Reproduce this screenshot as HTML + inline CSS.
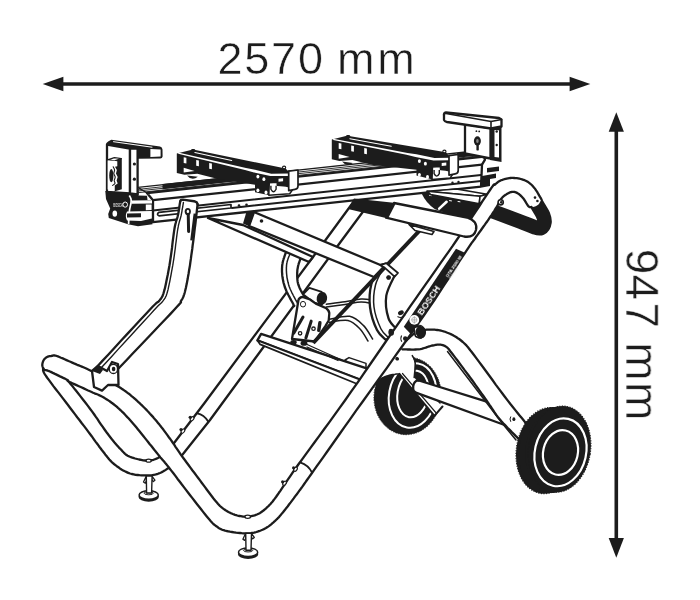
<!DOCTYPE html>
<html><head><meta charset="utf-8"><title>GTA 2500 W dimensions</title>
<style>
html,body{margin:0;padding:0;background:#fff;}
body{width:700px;height:600px;overflow:hidden;font-family:"Liberation Sans",sans-serif;}
svg{display:block}
text{font-family:"Liberation Sans",sans-serif;fill:#1c1c1c}
</style></head><body>
<svg width="700" height="600" viewBox="0 0 700 600">
<rect width="700" height="600" fill="#fff"/>
<path d="M60 84 L572 84" fill="none" stroke="#1c1c1c" stroke-width="3.6" stroke-linecap="butt" stroke-linejoin="round"/>
<path d="M42.7 84 L63.4 76.8 L63.4 91.2 Z" fill="#1c1c1c"/>
<path d="M590.3 84 L569.6 76.8 L569.6 91.2 Z" fill="#1c1c1c"/>
<path d="M616.3 128 L616.3 542" fill="none" stroke="#1c1c1c" stroke-width="3.6" stroke-linecap="butt" stroke-linejoin="round"/>
<path d="M616.3 112.2 L608.7 131.8 L623.9 131.8 Z" fill="#1c1c1c"/>
<path d="M616.3 557.7 L608.7 538.1 L623.9 538.1 Z" fill="#1c1c1c"/>
<text style="will-change:transform" x="217.4 244.3 271 298 325 337 377.3" y="74" font-size="45" stroke="#fff" stroke-width="0.5">2570 mm</text>
<text style="will-change:transform" transform="translate(626.2 0) rotate(90)" x="248.7 274.6 302.6 330 342.3 382.1" y="0" font-size="46" stroke="#fff" stroke-width="0.5">947 mm</text>
<path d="M462.0 200.0 C467.7 202.1 486.3 208.9 496.0 212.5 C505.7 216.1 513.7 219.1 520.0 221.5 C526.3 223.9 530.5 225.9 534.0 227.0 C537.5 228.1 539.2 228.8 541.0 228.0 C542.8 227.2 544.2 224.2 544.5 222.0 C544.8 219.8 543.9 217.3 543.0 215.0 C542.1 212.7 540.7 210.8 539.0 208.0 C537.3 205.2 534.0 199.7 533.0 198.0" fill="none" stroke="#1c1c1c" stroke-width="14.6" stroke-linecap="butt" stroke-linejoin="round"/>
<path d="M421.4 192.9 L430.7 192 L480 198 L486 206 L472 222 L435 209.2 Q426 203 421.4 192.9 Z" fill="#1c1c1c"/>
<path d="M439.2 208.6 L446.6 201.8" fill="none" stroke="#fff" stroke-width="2.6" stroke-linecap="round" stroke-linejoin="round"/>
<path d="M429.5 195.3 L431.5 195.6" fill="none" stroke="#fff" stroke-width="1.0" stroke-linecap="round" stroke-linejoin="round"/>
<path d="M449.5 200.6 L451.5 200.9" fill="none" stroke="#fff" stroke-width="1.0" stroke-linecap="round" stroke-linejoin="round"/>
<path d="M458 201.5 L460 201.8" fill="none" stroke="#fff" stroke-width="1.0" stroke-linecap="round" stroke-linejoin="round"/>
<path d="M355.2 199.5 L325.0 240.8 L204.7 402.7 L173.3 444.0 L182.0 455.3 L210.0 420.0 L338.3 245.0 L364.6 209.5 Z" fill="#fff"/>
<path d="M355.2 199.5 L325.0 240.8 L204.7 402.7 L173.3 444.0" fill="none" stroke="#1c1c1c" stroke-width="2.3" stroke-linecap="round" stroke-linejoin="round"/>
<path d="M364.6 209.5 L338.3 245.0 L210.0 420.0 L182.0 455.3" fill="none" stroke="#1c1c1c" stroke-width="2.3" stroke-linecap="round" stroke-linejoin="round"/>
<path d="M355.2 199.5 L364.6 209.5" fill="none" stroke="#1c1c1c" stroke-width="1.6" stroke-linecap="round" stroke-linejoin="round"/>
<path d="M197.3 413.3 Q204 414.5 208 421.3" fill="none" stroke="#1c1c1c" stroke-width="1.8" stroke-linecap="round" stroke-linejoin="round"/>
<ellipse cx="192.1" cy="418.8" rx="2.3" ry="1.5" transform="rotate(-53 192.1 418.8)" fill="#fff" stroke="#1c1c1c" stroke-width="1.1"/>
<ellipse cx="190.2" cy="417.3" rx="1.6" ry="1.6" transform="rotate(0 190.2 417.3)" fill="#1c1c1c" stroke="none" stroke-width="0"/>
<ellipse cx="182.9" cy="431.1" rx="2.3" ry="1.5" transform="rotate(-53 182.9 431.1)" fill="#fff" stroke="#1c1c1c" stroke-width="1.1"/>
<ellipse cx="181.0" cy="429.6" rx="1.6" ry="1.6" transform="rotate(0 181.0 429.6)" fill="#1c1c1c" stroke="none" stroke-width="0"/>
<path d="M286.5 251.0 L286.3 251.6 L286.0 252.4 L285.6 253.3 L285.2 254.3 L284.8 255.4 L284.4 256.6 L284.0 257.8 L283.6 258.9 L283.3 260.0 L283.0 261.0 L282.8 261.9 L282.6 262.8 L282.5 263.7 L282.3 264.6 L282.2 265.5 L282.1 266.4 L282.1 267.3 L282.0 268.2 L282.0 269.1 L282.0 270.0 L282.0 271.0 L282.0 271.9 L282.1 272.9 L282.2 273.9 L282.2 274.9 L282.3 275.9 L282.5 276.9 L282.6 278.0 L282.8 279.0 L283.0 280.0 L283.2 281.0 L283.4 282.0 L283.6 283.0 L283.9 283.9 L284.2 284.9 L284.5 285.9 L284.8 287.0 L285.2 288.1 L285.7 289.2 L286.2 290.5 L286.8 291.9 L287.6 293.5 L288.5 295.3 L289.5 297.1 L290.4 298.9 L291.4 300.7 L292.3 302.3 L293.1 303.8 L293.7 305.1 L294.2 306.0 L308.0 300.0 L307.7 299.7 L307.3 299.3 L306.9 298.8 L306.3 298.3 L305.8 297.7 L305.2 297.1 L304.6 296.5 L304.1 295.8 L303.5 295.0 L303.0 294.2 L302.5 293.4 L302.0 292.5 L301.5 291.6 L300.9 290.5 L300.4 289.5 L299.9 288.4 L299.4 287.4 L299.0 286.3 L298.6 285.3 L298.3 284.3 L298.0 283.3 L297.8 282.4 L297.6 281.4 L297.5 280.5 L297.4 279.6 L297.3 278.6 L297.3 277.7 L297.2 276.8 L297.2 275.9 L297.2 275.0 L297.2 274.1 L297.2 273.3 L297.2 272.4 L297.3 271.6 L297.3 270.8 L297.4 269.9 L297.5 269.1 L297.7 268.3 L297.8 267.4 L298.0 266.5 L298.2 265.5 L298.5 264.5 L298.8 263.4 L299.2 262.3 L299.6 261.2 L299.9 260.2 L300.3 259.2 L300.6 258.3 L300.8 257.6 L301.0 257.0 Z" fill="#fff"/>
<path d="M286.5 251.0 L286.3 251.6 L286.0 252.4 L285.6 253.3 L285.2 254.3 L284.8 255.4 L284.4 256.6 L284.0 257.8 L283.6 258.9 L283.3 260.0 L283.0 261.0 L282.8 261.9 L282.6 262.8 L282.5 263.7 L282.3 264.6 L282.2 265.5 L282.1 266.4 L282.1 267.3 L282.0 268.2 L282.0 269.1 L282.0 270.0 L282.0 271.0 L282.0 271.9 L282.1 272.9 L282.2 273.9 L282.2 274.9 L282.3 275.9 L282.5 276.9 L282.6 278.0 L282.8 279.0 L283.0 280.0 L283.2 281.0 L283.4 282.0 L283.6 283.0 L283.9 283.9 L284.2 284.9 L284.5 285.9 L284.8 287.0 L285.2 288.1 L285.7 289.2 L286.2 290.5 L286.8 291.9 L287.6 293.5 L288.5 295.3 L289.5 297.1 L290.4 298.9 L291.4 300.7 L292.3 302.3 L293.1 303.8 L293.7 305.1 L294.2 306.0" fill="none" stroke="#1c1c1c" stroke-width="2.3" stroke-linecap="round" stroke-linejoin="round"/>
<path d="M301.0 257.0 L300.8 257.6 L300.6 258.3 L300.3 259.2 L299.9 260.2 L299.6 261.2 L299.2 262.3 L298.8 263.4 L298.5 264.5 L298.2 265.5 L298.0 266.5 L297.8 267.4 L297.7 268.3 L297.5 269.1 L297.4 269.9 L297.3 270.8 L297.3 271.6 L297.2 272.4 L297.2 273.3 L297.2 274.1 L297.2 275.0 L297.2 275.9 L297.2 276.8 L297.3 277.7 L297.3 278.6 L297.4 279.6 L297.5 280.5 L297.6 281.4 L297.8 282.4 L298.0 283.3 L298.3 284.3 L298.6 285.3 L299.0 286.3 L299.4 287.4 L299.9 288.4 L300.4 289.5 L300.9 290.5 L301.5 291.6 L302.0 292.5 L302.5 293.4 L303.0 294.2 L303.5 295.0 L304.1 295.8 L304.6 296.5 L305.2 297.1 L305.8 297.7 L306.3 298.3 L306.9 298.8 L307.3 299.3 L307.7 299.7 L308.0 300.0" fill="none" stroke="#1c1c1c" stroke-width="2.3" stroke-linecap="round" stroke-linejoin="round"/>
<path d="M290.6 252.5 L290.4 253.0 L290.1 253.7 L289.7 254.6 L289.4 255.5 L288.9 256.5 L288.5 257.5 L288.1 258.6 L287.8 259.6 L287.5 260.6 L287.2 261.5 L287.0 262.4 L286.8 263.2 L286.7 264.1 L286.6 264.9 L286.5 265.7 L286.5 266.6 L286.4 267.4 L286.4 268.2 L286.4 269.1 L286.4 270.0 L286.4 270.9 L286.5 271.8 L286.5 272.8 L286.6 273.7 L286.7 274.7 L286.8 275.6 L286.9 276.6 L287.0 277.6 L287.2 278.5 L287.4 279.5 L287.6 280.5 L287.8 281.4 L288.0 282.3 L288.3 283.3 L288.5 284.2 L288.8 285.2 L289.1 286.2 L289.5 287.2 L289.9 288.3 L290.4 289.5 L291.0 290.8 L291.7 292.3 L292.5 293.8 L293.3 295.5 L294.2 297.1 L295.0 298.7 L295.8 300.2 L296.6 301.5 L297.2 302.6 L297.6 303.5" fill="none" stroke="#1c1c1c" stroke-width="1.5" stroke-linecap="round" stroke-linejoin="round"/>
<path d="M345.0 360.0 L349.0 357.6 L366.0 363.4 L366.0 369.6 L357.0 370.0 Z" fill="#fff" stroke="#1c1c1c" stroke-width="1.5" stroke-linejoin="round"/>
<path d="M261.1 333.9 L372.0 370.2 L364.0 381.1 L257.4 340.4 Z" fill="#fff" stroke="#1c1c1c" stroke-width="2.3" stroke-linejoin="round"/>
<path d="M257.4 340.4 L364.0 381.1 L360.4 385.3 L260.2 344.4 Z" fill="#fff" stroke="#1c1c1c" stroke-width="1.7" stroke-linejoin="round"/>
<path d="M306 344 L345 361.5" fill="none" stroke="#1c1c1c" stroke-width="1.3" stroke-linecap="round" stroke-linejoin="round"/>
<path d="M307 347 L338 360.5" fill="none" stroke="#1c1c1c" stroke-width="1.3" stroke-linecap="round" stroke-linejoin="round"/>
<path d="M326.3 304.2 C329.4 303.8 339.2 302.7 345.0 301.8 C350.8 300.9 356.3 299.3 361.0 299.0 C365.7 298.7 371.0 299.8 373.0 300.0" fill="none" stroke="#1c1c1c" stroke-width="1.5" stroke-linecap="round" stroke-linejoin="round"/>
<path d="M326.3 307.0 C329.4 306.6 339.2 305.2 345.0 304.4 C350.8 303.6 356.5 302.1 361.0 302.0 C365.5 301.9 370.2 303.2 372.0 303.5" fill="none" stroke="#1c1c1c" stroke-width="1.5" stroke-linecap="round" stroke-linejoin="round"/>
<path d="M329.3 319.3 C332.7 318.8 344.0 315.3 349.7 316.3 C355.4 317.3 359.6 321.6 363.4 325.4 C367.2 329.2 371.1 336.7 372.6 339.0" fill="none" stroke="#1c1c1c" stroke-width="1.5" stroke-linecap="round" stroke-linejoin="round"/>
<path d="M329.0 322.3 C332.2 322.0 342.8 319.3 348.0 320.4 C353.2 321.5 356.7 325.6 360.0 329.0 C363.3 332.4 366.7 339.0 368.0 341.0" fill="none" stroke="#1c1c1c" stroke-width="1.5" stroke-linecap="round" stroke-linejoin="round"/>
<path d="M303.0 294.3 L309.4 287.8 L321.7 291.9 L322.0 304.5 L314.0 302.5 Z" fill="#fff" stroke="#1c1c1c" stroke-width="1.8" stroke-linejoin="round"/>
<ellipse cx="321.9" cy="298.3" rx="5.2" ry="6.4" transform="rotate(12 321.9 298.3)" fill="#1c1c1c" stroke="none" stroke-width="0"/>
<path d="M298.3 301 Q298.6 297.6 302.5 297 L310 299.5 L315.8 303.6 L326.3 308.3 Q329.6 311 329.3 313.5 L328.7 320.5 L325.2 326.3 L314.7 341.5 L292 339 Z" fill="#fff" stroke="#1c1c1c" stroke-width="2.3" stroke-linejoin="round"/>
<path d="M303 317 L293.7 333.3" fill="none" stroke="#1c1c1c" stroke-width="3.0" stroke-linecap="round" stroke-linejoin="round"/>
<path d="M311.2 321.1 L305.9 338" fill="none" stroke="#1c1c1c" stroke-width="3.0" stroke-linecap="round" stroke-linejoin="round"/>
<path d="M319.9 322.8 L318.75 330.4" fill="none" stroke="#1c1c1c" stroke-width="3.4" stroke-linecap="round" stroke-linejoin="round"/>
<ellipse cx="300.1" cy="333.3" rx="1.7" ry="1.7" transform="rotate(0 300.1 333.3)" fill="#fff" stroke="#1c1c1c" stroke-width="1.3"/>
<ellipse cx="313.5" cy="328.7" rx="1.7" ry="1.7" transform="rotate(0 313.5 328.7)" fill="#fff" stroke="#1c1c1c" stroke-width="1.3"/>
<ellipse cx="303" cy="304.2" rx="2.6" ry="2.8" transform="rotate(0 303 304.2)" fill="#fff" stroke="#1c1c1c" stroke-width="1.0"/>
<ellipse cx="293.5" cy="342.3" rx="3.2" ry="2.4" transform="rotate(0 293.5 342.3)" fill="#1c1c1c" stroke="none" stroke-width="0"/>
<ellipse cx="304" cy="343.2" rx="3.4" ry="2.6" transform="rotate(0 304 343.2)" fill="#1c1c1c" stroke="none" stroke-width="0"/>
<path d="M380.6 264.9 C379.1 268.1 373.2 277.0 371.4 284.0 C369.6 291.0 369.1 299.3 370.0 307.0 C370.9 314.7 374.3 324.5 377.0 330.0 C379.7 335.5 384.5 338.3 386.0 340.0 L397.7 330.0 C396.2 328.1 390.5 324.3 388.6 318.6 C386.7 312.9 385.2 303.1 386.3 295.7 C387.4 288.3 393.9 277.6 395.4 274.0 L386 263.7 Z" fill="#fff" stroke="#1c1c1c" stroke-width="2.3" stroke-linejoin="round"/>
<path d="M384.5 266.0 C383.0 269.2 377.2 278.2 375.5 285.0 C373.8 291.8 373.1 299.7 374.0 307.0 C374.9 314.3 378.5 323.8 381.0 329.0 C383.5 334.2 387.7 336.5 389.0 338.0" fill="none" stroke="#1c1c1c" stroke-width="1.5" stroke-linecap="round" stroke-linejoin="round"/>
<ellipse cx="388.6" cy="277.4" rx="2.2" ry="2.2" transform="rotate(0 388.6 277.4)" fill="#1c1c1c" stroke="none" stroke-width="0"/>
<ellipse cx="390.9" cy="331" rx="2.2" ry="2.2" transform="rotate(0 390.9 331)" fill="#1c1c1c" stroke="none" stroke-width="0"/>
<path d="M208.0 218.0 L243.0 225.0 L313.0 257.0 L309.0 262.0 Z" fill="#fff" stroke="#1c1c1c" stroke-width="2.3" stroke-linejoin="round"/>
<path d="M254.0 212.0 L384.0 266.5 L374.0 277.0 L249.0 226.0 Z" fill="#fff" stroke="#1c1c1c" stroke-width="2.3" stroke-linejoin="round"/>
<path d="M247.0 210.0 L254.5 212.0 L249.5 226.5 L243.0 223.5 Z" fill="#1c1c1c"/>
<ellipse cx="261.5" cy="221" rx="1.8" ry="1.8" transform="rotate(0 261.5 221)" fill="#1c1c1c" stroke="none" stroke-width="0"/>
<path d="M422.6 227.4 L313.2 343" fill="none" stroke="#1c1c1c" stroke-width="3.9" stroke-linecap="butt" stroke-linejoin="round"/>
<path d="M380.4 265.2 L386.4 263.2 L398.0 273.0 L394.6 276.6 L384.6 267.6 Z" fill="#fff" stroke="#1c1c1c" stroke-width="1.8" stroke-linejoin="round"/>
<ellipse cx="388.6" cy="277.6" rx="2.2" ry="2.2" transform="rotate(0 388.6 277.6)" fill="#1c1c1c" stroke="none" stroke-width="0"/>
<path d="M138.0 187.4 L482.0 150.2 L484.0 156.6 L147.0 193.0 Z" fill="#fff" stroke="#1c1c1c" stroke-width="1.4" stroke-linejoin="round"/>
<path d="M138.0 189.4 L480.0 152.4" fill="none" stroke="#1c1c1c" stroke-width="0.9" stroke-linecap="round" stroke-linejoin="round"/>
<path d="M138.0 191.0 L480.0 154.1" fill="none" stroke="#1c1c1c" stroke-width="0.9" stroke-linecap="round" stroke-linejoin="round"/>
<path d="M138.0 192.7 L480.0 155.7" fill="none" stroke="#1c1c1c" stroke-width="0.9" stroke-linecap="round" stroke-linejoin="round"/>
<path d="M162.5 184.0 L262.0 173.3 L262.0 178.6 L162.5 189.3 Z" fill="#1c1c1c"/>
<path d="M457.0 152.9 L482.0 150.2 L483.5 154.9 L457.0 157.7 Z" fill="#1c1c1c"/>
<path d="M147.0 193.0 L484.0 156.6 L485.0 159.6 L482.0 164.7 L481.0 186.7 L153.0 222.1 L153.0 200.2 Z" fill="#fff" stroke="#1c1c1c" stroke-width="2.3" stroke-linejoin="round"/>
<path d="M153.0 200.2 L482.0 164.6" fill="none" stroke="#1c1c1c" stroke-width="2.2" stroke-linecap="round" stroke-linejoin="round"/>
<path d="M153.0 210.4 L481.0 175.0" fill="none" stroke="#1c1c1c" stroke-width="2.0" stroke-linecap="round" stroke-linejoin="round"/>
<path d="M232.0 207.9 L481.0 181.0" fill="none" stroke="#1c1c1c" stroke-width="2.0" stroke-linecap="round" stroke-linejoin="round"/>
<path d="M159 212.3 L231 204.5 L231 208.0 L159 215.8 Q156 214.3 159 212.3 Z" fill="#fff" stroke="#1c1c1c" stroke-width="1.7" stroke-linejoin="round"/>
<ellipse cx="239" cy="205.544" rx="1.3" ry="1.3" transform="rotate(0 239 205.544)" fill="#1c1c1c" stroke="none" stroke-width="0"/>
<ellipse cx="246.5" cy="204.734" rx="1.3" ry="1.3" transform="rotate(0 246.5 204.734)" fill="#1c1c1c" stroke="none" stroke-width="0"/>
<ellipse cx="452.5" cy="182.686" rx="1.2" ry="1.2" transform="rotate(0 452.5 182.686)" fill="#1c1c1c" stroke="none" stroke-width="0"/>
<ellipse cx="458.5" cy="182.03799999999998" rx="1.2" ry="1.2" transform="rotate(0 458.5 182.03799999999998)" fill="#1c1c1c" stroke="none" stroke-width="0"/>
<path d="M176.8 153.4 L190.9 149.9 L191.9 148.9 L194.4 148.9 L195.4 150.1 L285.7 168.4 L288.7 172.0 L288.7 190.0 L269.3 195.3 L255.0 192.3 L255.0 184.7 L218.0 178.9 L197.4 173.7 L184.4 174.7 L176.8 173.1 Z" fill="#1c1c1c"/>
<path d="M178.2 152.5 L246.0 168.0 L255.0 169.8 L271.3 173.7 L288.7 173.5 L288.7 175.9 L270.3 176.1 L254.0 172.4 L245.0 169.9 L178.2 153.8 Z" fill="#fff"/>
<path d="M194.9 152.5 L231.7 160.5" fill="none" stroke="#fff" stroke-width="1.1" stroke-linecap="round" stroke-linejoin="round"/>
<path d="M183.7 157.2 L186.4 157.7 L186.4 163.4 L183.7 162.9 Z" fill="#fff"/>
<path d="M196.2 160.0 L198.9 160.5 L198.9 166.2 L196.2 165.7 Z" fill="#fff"/>
<path d="M209.2 163.0 L211.9 163.5 L211.9 169.2 L209.2 168.7 Z" fill="#fff"/>
<path d="M183.7 167.7 L194.6 170.9 L183.7 172.5 Z" fill="#fff"/>
<path d="M187.0 175.4 Q191.9 181.6 197.9 176.7 Z" fill="#1c1c1c"/>
<ellipse cx="257.9" cy="176.60232" rx="1.5" ry="1.9" transform="rotate(0 257.9 176.60232)" fill="#fff" stroke="none" stroke-width="0"/>
<ellipse cx="263.9" cy="179.20232" rx="1.5" ry="1.9" transform="rotate(0 263.9 179.20232)" fill="#fff" stroke="none" stroke-width="0"/>
<ellipse cx="257.9" cy="190.30232" rx="1.5" ry="1.9" transform="rotate(0 257.9 190.30232)" fill="#fff" stroke="none" stroke-width="0"/>
<ellipse cx="266.0" cy="192.50232" rx="1.5" ry="1.9" transform="rotate(0 266.0 192.50232)" fill="#fff" stroke="none" stroke-width="0"/>
<path d="M278.5 178.7 L283.1 178.3 L283.1 181.3 L278.5 181.7 Z" fill="#fff"/>
<path d="M269.3 182.7 L277.3 182.3 L277.3 185.3 Q292.2 185.8 292.2 190.3 L289.7 193.8 L268.8 195.3 Z" fill="#fff" stroke="#1c1c1c" stroke-width="1.5" stroke-linejoin="round"/>
<path d="M270.9 185.8 L270.9 189.3 Q273.5 194.3 276.1 189.3 L276.1 185.8" fill="none" stroke="#1c1c1c" stroke-width="1.4"/>
<path d="M288.7 171.2 L298.0 170.0 L298.0 186.0 Q298.0 189.0 295.0 189.3 L288.7 190.6 Z" fill="#fff" stroke="#1c1c1c" stroke-width="1.7" stroke-linejoin="round"/>
<ellipse cx="284.1" cy="167.4312" rx="1.6" ry="1.3" transform="rotate(0 284.1 167.4312)" fill="#fff" stroke="#1c1c1c" stroke-width="1.1"/>
<path d="M331.8 139.6 L345.9 136.1 L346.9 135.1 L349.4 135.1 L350.4 136.3 L446.0 152.3 L449.0 156.5 L449.0 174.5 L432.5 179.6 L416.5 175.5 L416.5 169.8 L373.0 165.1 L352.4 159.9 L339.4 160.9 L331.8 159.3 Z" fill="#1c1c1c"/>
<path d="M333.2 138.7 L407.5 152.9 L416.5 154.3 L434.5 158.0 L449.0 157.8 L449.0 160.2 L433.5 160.4 L415.5 156.9 L406.5 154.8 L333.2 140.0 Z" fill="#fff"/>
<path d="M349.9 138.7 L391.3 146.2" fill="none" stroke="#fff" stroke-width="1.1" stroke-linecap="round" stroke-linejoin="round"/>
<path d="M338.7 143.1 L341.4 143.6 L341.4 149.3 L338.7 148.8 Z" fill="#fff"/>
<path d="M351.2 145.5 L353.9 146.0 L353.9 151.7 L351.2 151.2 Z" fill="#fff"/>
<path d="M364.2 148.0 L366.9 148.5 L366.9 154.2 L364.2 153.7 Z" fill="#fff"/>
<path d="M338.7 153.9 L349.6 157.1 L338.7 158.7 Z" fill="#fff"/>
<path d="M342.0 161.6 Q346.9 167.8 352.9 162.9 Z" fill="#1c1c1c"/>
<ellipse cx="419.4" cy="161.09766000000002" rx="1.5" ry="1.9" transform="rotate(0 419.4 161.09766000000002)" fill="#fff" stroke="none" stroke-width="0"/>
<ellipse cx="425.4" cy="163.69766" rx="1.5" ry="1.9" transform="rotate(0 425.4 163.69766)" fill="#fff" stroke="none" stroke-width="0"/>
<ellipse cx="419.4" cy="174.79766" rx="1.5" ry="1.9" transform="rotate(0 419.4 174.79766)" fill="#fff" stroke="none" stroke-width="0"/>
<ellipse cx="427.5" cy="176.99766" rx="1.5" ry="1.9" transform="rotate(0 427.5 176.99766)" fill="#fff" stroke="none" stroke-width="0"/>
<path d="M441.7 163.0 L446.3 162.6 L446.3 165.6 L441.7 166.0 Z" fill="#fff"/>
<path d="M432.5 167.0 L440.5 166.6 L440.5 169.6 Q452.5 170.1 452.5 174.6 L450.0 178.1 L432.0 179.6 Z" fill="#fff" stroke="#1c1c1c" stroke-width="1.5" stroke-linejoin="round"/>
<path d="M434.1 170.1 L434.1 173.6 Q436.7 178.6 439.3 173.6 L439.3 170.1" fill="none" stroke="#1c1c1c" stroke-width="1.4"/>
<path d="M449.0 155.7 L458.2 154.5 L458.2 170.5 Q458.2 173.5 455.2 173.8 L449.0 175.1 Z" fill="#fff" stroke="#1c1c1c" stroke-width="1.7" stroke-linejoin="round"/>
<ellipse cx="444.4" cy="151.46375" rx="1.6" ry="1.3" transform="rotate(0 444.4 151.46375)" fill="#fff" stroke="#1c1c1c" stroke-width="1.1"/>
<path d="M105.3 191 L138.5 191 L138.5 195.5 L147 195.8 L147.5 200 L152.5 200 L152.5 224.3 L138 226.2 L128 224.2 L108.8 218 L108.2 214 L110.2 208.5 L106 199 Z" fill="#1c1c1c"/>
<path d="M129.3 195.5 C129.6 196.1 130.7 197.8 131.0 199.0 C131.3 200.2 131.3 201.0 131.0 203.0 C130.7 205.0 129.8 207.5 129.4 211.0 C129.0 214.5 128.7 221.8 128.6 224.0" fill="none" stroke="#fff" stroke-width="1.7" stroke-linecap="butt" stroke-linejoin="round"/>
<path d="M131.5 200.6 L152.0 200.2 L152.0 203.4 L131.5 203.8 Z" fill="#fff"/>
<path d="M145.8 204.6 L151.6 204.4 L151.6 210.0 L145.8 210.2 Z" fill="#fff"/>
<path d="M127 211.4 L151.8 210.9 L151.8 218.5 L141 221 L127 220.6 Q124.6 216 127 211.4 Z" fill="#fff"/>
<path d="M127.0 213.6 L141.0 213.3 L141.0 217.3 L127.0 217.6 Z" fill="#1c1c1c"/>
<text style="will-change:transform;fill:#ddd" x="113.3" y="206.6" font-size="4.6" font-weight="bold" textLength="9.4" lengthAdjust="spacingAndGlyphs">BOSCH</text>
<ellipse cx="125.2" cy="204.6" rx="2.3" ry="2.6" transform="rotate(0 125.2 204.6)" fill="none" stroke="#fff" stroke-width="1.0"/>
<ellipse cx="114.8" cy="213.6" rx="2.3" ry="3.2" transform="rotate(0 114.8 213.6)" fill="#fff" stroke="none" stroke-width="0"/>
<path d="M107.0 144.5 L130.0 148.5 L130.0 193.5 L107.0 192.0 Z" fill="#fff" stroke="#1c1c1c" stroke-width="2.3" stroke-linejoin="round"/>
<path d="M130.0 148.5 L137.6 148.5 L137.6 194.5 L130.0 193.5 Z" fill="#fff" stroke="#1c1c1c" stroke-width="2.3" stroke-linejoin="round"/>
<ellipse cx="134.4" cy="164" rx="1.6" ry="1.6" transform="rotate(0 134.4 164)" fill="#1c1c1c" stroke="none" stroke-width="0"/>
<ellipse cx="134.4" cy="179.2" rx="1.6" ry="1.6" transform="rotate(0 134.4 179.2)" fill="#1c1c1c" stroke="none" stroke-width="0"/>
<path d="M106.2 144.8 Q106 142.6 108.5 141.3 L111.3 139.7 L160 146.6 Q162.3 147.2 162.5 149.5 L162.6 156.5 Q162.4 158.4 160.3 158.6 L137.6 158.8 L137.6 148.8 L130 148.8 Z" fill="#1c1c1c"/>
<path d="M150.4 148.9 L160.6 149.6 L160.6 156.6 L150.4 156.9 Z" fill="#fff"/>
<path d="M113.5 141.7 L152 147.2" fill="none" stroke="#fff" stroke-width="1.0" stroke-linecap="round" stroke-linejoin="round"/>
<path d="M114.2 159.5 L121.8 158.2 L121.8 189.2 L114.2 191.4 Z" fill="#1c1c1c"/>
<path d="M107.6 159.9 L114.4 157.6 L121.4 158.5 L114.6 160.9 Z" fill="#fff" stroke="#1c1c1c" stroke-width="1.2" stroke-linejoin="round"/>
<path d="M107.6 160.6 L114.4 160.8 L117.3 161.2 L117.3 166.2 L115.0 166.8 L116.9 170.0 L116.0 173.5 L117.7 177.0 L116.6 180.5 L117.7 183.6 L114.7 185.6 L114.7 191.0 L107.6 189.6 Z" fill="#fff"/>
<path d="M113.2 166.8 C113.4 167.3 114.5 168.9 114.6 170.0 C114.7 171.1 113.7 172.3 113.8 173.5 C113.9 174.7 115.1 175.8 115.2 177.0 C115.3 178.2 114.2 179.4 114.2 180.5 C114.2 181.6 115.3 182.6 115.0 183.4 C114.7 184.2 113.0 185.1 112.6 185.4" fill="none" stroke="#1c1c1c" stroke-width="1.1" stroke-linecap="round" stroke-linejoin="round"/>
<ellipse cx="111.3" cy="175.6" rx="2.1" ry="6.6" transform="rotate(0 111.3 175.6)" fill="#1c1c1c" stroke="none" stroke-width="0"/>
<path d="M465.0 124.0 L490.5 128.0 L490.5 158.5 L465.0 153.5 Z" fill="#fff" stroke="#1c1c1c" stroke-width="2.3" stroke-linejoin="round"/>
<path d="M490.0 126.0 L501.5 127.0 L501.5 162.0 L490.0 160.0 Z" fill="#1c1c1c"/>
<path d="M494.5 130.0 L499.0 130.3 L499.0 157.5 L494.5 157.0 Z" fill="#fff"/>
<ellipse cx="496.7" cy="131.5" rx="1.2" ry="1.2" transform="rotate(0 496.7 131.5)" fill="#1c1c1c" stroke="none" stroke-width="0"/>
<ellipse cx="496.7" cy="145" rx="1.2" ry="1.2" transform="rotate(0 496.7 145)" fill="#1c1c1c" stroke="none" stroke-width="0"/>
<path d="M446 112.5 Q443.5 113 444 116 L444 120 Q444.5 121.5 447 122 L491 128.5 L501.5 126.5 L501.5 119.5 L499 118 Z" fill="#fff" stroke="#1c1c1c" stroke-width="2.3" stroke-linejoin="round"/>
<path d="M491 128.5 L491 121.5 L446 113.5" fill="none" stroke="#1c1c1c" stroke-width="1.6" stroke-linecap="round" stroke-linejoin="round"/>
<path d="M491 121.5 L501.5 119.5" fill="none" stroke="#1c1c1c" stroke-width="1.6" stroke-linecap="round" stroke-linejoin="round"/>
<ellipse cx="477.4" cy="141" rx="3.5" ry="4.7" transform="rotate(0 477.4 141)" fill="#1c1c1c" stroke="none" stroke-width="0"/>
<path d="M477.6 143 L477.6 149.4" fill="none" stroke="#1c1c1c" stroke-width="2.4" stroke-linecap="round" stroke-linejoin="round"/>
<ellipse cx="477.4" cy="141" rx="1.3" ry="2.0" transform="rotate(0 477.4 141)" fill="#888" stroke="none" stroke-width="0"/>
<ellipse cx="476.4" cy="131.2" rx="0.9" ry="0.9" transform="rotate(0 476.4 131.2)" fill="#1c1c1c" stroke="none" stroke-width="0"/>
<ellipse cx="479.2" cy="131.4" rx="0.9" ry="0.9" transform="rotate(0 479.2 131.4)" fill="#1c1c1c" stroke="none" stroke-width="0"/>
<path d="M487.0 168.0 L499.0 166.5 L499.0 171.0 L487.0 172.5 Z" fill="#1c1c1c"/>
<path d="M482.0 176.0 L496.0 173.5 L496.0 178.0 L490.0 179.0 L490.0 186.0 L482.0 187.5 Z" fill="#1c1c1c"/>
<path d="M427.0 191.2 L456.4 189.0 L487.1 194.3 L480.0 196.3 Z" fill="#fff" stroke="#1c1c1c" stroke-width="1.6" stroke-linejoin="round"/>
<path d="M427.0 191.2 L480.0 196.3 L479.3 203.8 L430.7 194.6 Z" fill="#fff" stroke="#1c1c1c" stroke-width="1.6" stroke-linejoin="round"/>
<path d="M480.0 196.3 L487.1 194.3 L486.6 198.5 L479.3 203.8 Z" fill="#fff" stroke="#1c1c1c" stroke-width="1.6" stroke-linejoin="round"/>
<path d="M180.2 201.3 L180.1 202.1 L179.9 203.2 L179.7 204.4 L179.5 205.8 L179.3 207.3 L179.1 208.9 L178.8 210.5 L178.6 212.1 L178.3 213.6 L178.0 215.0 L177.7 216.3 L177.4 217.4 L177.1 218.4 L176.7 219.5 L176.4 220.5 L176.0 221.7 L175.7 223.0 L175.3 224.5 L174.9 226.3 L174.5 228.5 L174.1 231.1 L173.7 234.0 L173.3 237.2 L172.8 240.7 L172.4 244.2 L172.0 247.9 L171.5 251.6 L171.0 255.2 L170.5 258.7 L170.0 262.0 L169.5 265.2 L168.9 268.5 L168.3 271.8 L167.7 275.0 L167.0 278.2 L166.4 281.3 L165.8 284.2 L165.2 286.9 L164.6 289.4 L164.0 291.5 L163.5 293.3 L163.0 294.7 L162.6 295.9 L162.1 296.8 L161.7 297.6 L161.2 298.2 L160.8 298.9 L160.2 299.5 L159.7 300.2 L159.0 301.0 L158.5 301.7 L158.2 301.9 L158.1 302.0 L157.9 302.0 L157.7 302.1 L157.2 302.4 L156.3 303.2 L154.9 304.5 L152.8 306.5 L150.0 309.5 L146.1 313.7 L140.9 319.2 L134.9 325.7 L128.3 332.9 L121.4 340.3 L114.6 347.7 L108.2 354.7 L102.4 360.9 L97.5 366.2 L94.0 370.0 L118.5 368.5 L122.1 364.8 L126.9 359.7 L132.7 353.5 L139.2 346.7 L146.1 339.5 L153.0 332.3 L159.6 325.3 L165.6 319.0 L170.7 313.6 L174.5 309.5 L177.2 306.6 L179.0 304.6 L180.2 303.3 L180.8 302.5 L181.0 302.2 L181.0 302.0 L180.8 302.0 L180.7 302.0 L180.7 301.7 L181.0 301.0 L181.5 300.2 L182.0 299.4 L182.4 298.7 L182.8 297.9 L183.1 297.2 L183.5 296.4 L183.8 295.4 L184.2 294.3 L184.6 293.0 L185.0 291.5 L185.4 289.8 L185.9 287.8 L186.3 285.8 L186.8 283.6 L187.2 281.2 L187.7 278.8 L188.1 276.2 L188.6 273.5 L189.0 270.8 L189.5 268.0 L190.0 265.1 L190.4 262.0 L190.9 258.7 L191.3 255.4 L191.8 252.0 L192.3 248.5 L192.7 245.0 L193.2 241.6 L193.6 238.3 L194.0 235.0 L194.4 231.7 L194.8 228.2 L195.3 224.6 L195.7 221.0 L196.1 217.5 L196.5 214.2 L196.8 211.1 L197.1 208.4 L197.4 206.0 L197.6 204.2 L197.6 204.2 L196.8 202.4 L194.0 201.2 L183.0 199.6 L181.0 200.0 L180.2 201.3 Z" fill="#fff"/>
<path d="M180.2 201.3 L180.1 202.1 L179.9 203.2 L179.7 204.4 L179.5 205.8 L179.3 207.3 L179.1 208.9 L178.8 210.5 L178.6 212.1 L178.3 213.6 L178.0 215.0 L177.7 216.3 L177.4 217.4 L177.1 218.4 L176.7 219.5 L176.4 220.5 L176.0 221.7 L175.7 223.0 L175.3 224.5 L174.9 226.3 L174.5 228.5 L174.1 231.1 L173.7 234.0 L173.3 237.2 L172.8 240.7 L172.4 244.2 L172.0 247.9 L171.5 251.6 L171.0 255.2 L170.5 258.7 L170.0 262.0 L169.5 265.2 L168.9 268.5 L168.3 271.8 L167.7 275.0 L167.0 278.2 L166.4 281.3 L165.8 284.2 L165.2 286.9 L164.6 289.4 L164.0 291.5 L163.5 293.3 L163.0 294.7 L162.6 295.9 L162.1 296.8 L161.7 297.6 L161.2 298.2 L160.8 298.9 L160.2 299.5 L159.7 300.2 L159.0 301.0 L158.5 301.7 L158.2 301.9 L158.1 302.0 L157.9 302.0 L157.7 302.1 L157.2 302.4 L156.3 303.2 L154.9 304.5 L152.8 306.5 L150.0 309.5 L146.1 313.7 L140.9 319.2 L134.9 325.7 L128.3 332.9 L121.4 340.3 L114.6 347.7 L108.2 354.7 L102.4 360.9 L97.5 366.2 L94.0 370.0" fill="none" stroke="#1c1c1c" stroke-width="2.3" stroke-linecap="round" stroke-linejoin="round"/>
<path d="M197.6 204.2 L197.4 206.0 L197.1 208.4 L196.8 211.1 L196.5 214.2 L196.1 217.5 L195.7 221.0 L195.3 224.6 L194.8 228.2 L194.4 231.7 L194.0 235.0 L193.6 238.3 L193.2 241.6 L192.7 245.0 L192.3 248.5 L191.8 252.0 L191.3 255.4 L190.9 258.7 L190.4 262.0 L190.0 265.1 L189.5 268.0 L189.0 270.8 L188.6 273.5 L188.1 276.2 L187.7 278.8 L187.2 281.2 L186.8 283.6 L186.3 285.8 L185.9 287.8 L185.4 289.8 L185.0 291.5 L184.6 293.0 L184.2 294.3 L183.8 295.4 L183.5 296.4 L183.1 297.2 L182.8 297.9 L182.4 298.7 L182.0 299.4 L181.5 300.2 L181.0 301.0 L180.7 301.7 L180.7 302.0 L180.8 302.0 L181.0 302.0 L181.0 302.2 L180.8 302.5 L180.2 303.3 L179.0 304.6 L177.2 306.6 L174.5 309.5 L170.7 313.6 L165.6 319.0 L159.6 325.3 L153.0 332.3 L146.1 339.5 L139.2 346.7 L132.7 353.5 L126.9 359.7 L122.1 364.8 L118.5 368.5" fill="none" stroke="#1c1c1c" stroke-width="2.3" stroke-linecap="round" stroke-linejoin="round"/>
<path d="M197.6 204.2 L196.8 202.4 L194.0 201.2 L183.0 199.6 L181.0 200.0 L180.2 201.3" fill="none" stroke="#1c1c1c" stroke-width="2.4" stroke-linecap="round" stroke-linejoin="round"/>
<path d="M183.4 202.5 L183.3 203.3 L183.1 204.3 L182.9 205.6 L182.7 207.0 L182.4 208.4 L182.1 210.0 L181.9 211.6 L181.6 213.1 L181.3 214.6 L181.0 216.0 L180.7 217.2 L180.4 218.3 L180.1 219.3 L179.8 220.3 L179.5 221.3 L179.2 222.4 L178.9 223.6 L178.5 225.1 L178.2 226.9 L177.8 229.0 L177.4 231.5 L177.0 234.4 L176.6 237.5 L176.2 240.9 L175.7 244.5 L175.3 248.1 L174.8 251.7 L174.3 255.3 L173.8 258.8 L173.3 262.0 L172.8 265.2 L172.2 268.4 L171.6 271.7 L171.0 275.0 L170.4 278.2 L169.8 281.3 L169.2 284.2 L168.6 286.9 L168.1 289.4 L167.5 291.5 L167.0 293.3 L166.5 294.8 L166.1 296.0 L165.6 296.9 L165.2 297.8 L164.7 298.5 L164.3 299.2 L163.7 299.9 L163.2 300.6 L162.5 301.5 L162.0 302.2 L161.7 302.6 L161.6 302.7 L161.4 302.8 L161.2 303.0 L160.7 303.4 L159.8 304.2 L158.4 305.6 L156.3 307.8 L153.5 310.8 L149.6 315.1 L144.4 320.7 L138.4 327.3 L131.8 334.5 L124.9 342.0 L118.1 349.4 L111.7 356.5 L105.9 362.8 L101.0 368.1 L97.5 372.0" fill="none" stroke="#1c1c1c" stroke-width="1.4" stroke-linecap="round" stroke-linejoin="round"/>
<path d="M188.2 212 L188.6 231.5" fill="none" stroke="#1c1c1c" stroke-width="3.0" stroke-linecap="round" stroke-linejoin="round"/>
<ellipse cx="187.8" cy="211.6" rx="3.1" ry="3.7" transform="rotate(0 187.8 211.6)" fill="#1c1c1c" stroke="none" stroke-width="0"/>
<ellipse cx="187.9" cy="211.4" rx="1.2" ry="1.6" transform="rotate(0 187.9 211.4)" fill="#fff" stroke="none" stroke-width="0"/>
<path d="M193.6 213.5 L196.4 213.8 L192.6 240.5 L190.2 240.2 Z" fill="#1c1c1c"/>
<path d="M43.0 368.5 L43.1 368.8 L43.1 369.2 L43.1 369.5 L43.1 369.9 L43.1 370.4 L43.3 371.1 L43.6 371.9 L44.1 373.0 L44.9 374.3 L46.0 376.0 L47.4 378.0 L49.2 380.4 L51.2 383.1 L53.4 386.1 L55.8 389.2 L58.3 392.4 L60.8 395.6 L63.3 398.9 L65.7 402.0 L68.0 405.0 L70.2 408.0 L72.5 411.0 L74.9 414.1 L77.2 417.2 L79.6 420.2 L81.8 423.2 L84.1 426.1 L86.2 428.9 L88.2 431.6 L90.0 434.0 L91.7 436.2 L93.2 438.3 L94.6 440.3 L95.9 442.1 L97.2 443.8 L98.4 445.4 L99.5 447.0 L100.7 448.5 L101.8 450.0 L103.0 451.5 L104.2 453.0 L105.2 454.4 L106.3 455.7 L107.3 457.0 L108.3 458.2 L109.3 459.5 L110.4 460.6 L111.5 461.8 L112.7 462.9 L114.0 464.0 L115.4 465.1 L116.8 466.2 L118.4 467.3 L119.9 468.4 L121.5 469.4 L123.2 470.4 L124.9 471.3 L126.6 472.1 L128.3 472.9 L130.0 473.5 L131.8 474.0 L133.7 474.4 L135.6 474.8 L137.6 475.0 L139.6 475.2 L141.6 475.3 L143.5 475.4 L145.3 475.4 L147.0 475.4 L148.6 475.4 L150.0 475.4 L151.4 475.3 L152.6 475.1 L153.7 474.9 L154.8 474.7 L155.9 474.4 L156.9 474.1 L157.9 473.8 L158.9 473.4 L160.0 473.0 L161.1 472.5 L162.2 471.9 L163.4 471.3 L164.6 470.6 L165.7 469.9 L166.8 469.1 L167.8 468.5 L168.7 467.9 L169.4 467.4 L170.0 467.0 L162.0 456.0 L161.2 456.3 L160.3 456.8 L159.2 457.3 L157.9 458.0 L156.5 458.6 L155.0 459.2 L153.5 459.8 L151.9 460.2 L150.3 460.6 L148.7 460.7 L147.0 460.7 L145.2 460.5 L143.2 460.3 L141.2 459.9 L139.1 459.5 L137.1 459.0 L135.1 458.5 L133.2 457.9 L131.5 457.4 L130.0 456.8 L128.7 456.2 L127.6 455.7 L126.6 455.1 L125.8 454.5 L125.0 453.8 L124.3 453.1 L123.5 452.3 L122.7 451.4 L121.8 450.4 L120.7 449.3 L119.5 448.1 L118.3 446.8 L117.1 445.4 L115.8 443.9 L114.5 442.4 L113.1 440.7 L111.7 439.0 L110.3 437.2 L108.8 435.3 L107.3 433.3 L105.8 431.2 L104.2 429.0 L102.6 426.7 L100.9 424.3 L99.2 421.8 L97.5 419.2 L95.7 416.7 L93.9 414.0 L92.0 411.4 L90.0 408.7 L87.9 405.9 L85.5 402.8 L82.9 399.5 L80.3 396.1 L77.7 392.8 L75.1 389.6 L72.8 386.6 L70.6 384.0 L68.9 381.7 L67.5 380.0 L48.3 370.8 Z" fill="#fff"/>
<path d="M43.0 368.5 L43.1 368.8 L43.1 369.2 L43.1 369.5 L43.1 369.9 L43.1 370.4 L43.3 371.1 L43.6 371.9 L44.1 373.0 L44.9 374.3 L46.0 376.0 L47.4 378.0 L49.2 380.4 L51.2 383.1 L53.4 386.1 L55.8 389.2 L58.3 392.4 L60.8 395.6 L63.3 398.9 L65.7 402.0 L68.0 405.0 L70.2 408.0 L72.5 411.0 L74.9 414.1 L77.2 417.2 L79.6 420.2 L81.8 423.2 L84.1 426.1 L86.2 428.9 L88.2 431.6 L90.0 434.0 L91.7 436.2 L93.2 438.3 L94.6 440.3 L95.9 442.1 L97.2 443.8 L98.4 445.4 L99.5 447.0 L100.7 448.5 L101.8 450.0 L103.0 451.5 L104.2 453.0 L105.2 454.4 L106.3 455.7 L107.3 457.0 L108.3 458.2 L109.3 459.5 L110.4 460.6 L111.5 461.8 L112.7 462.9 L114.0 464.0 L115.4 465.1 L116.8 466.2 L118.4 467.3 L119.9 468.4 L121.5 469.4 L123.2 470.4 L124.9 471.3 L126.6 472.1 L128.3 472.9 L130.0 473.5 L131.8 474.0 L133.7 474.4 L135.6 474.8 L137.6 475.0 L139.6 475.2 L141.6 475.3 L143.5 475.4 L145.3 475.4 L147.0 475.4 L148.6 475.4 L150.0 475.4 L151.4 475.3 L152.6 475.1 L153.7 474.9 L154.8 474.7 L155.9 474.4 L156.9 474.1 L157.9 473.8 L158.9 473.4 L160.0 473.0 L161.1 472.5 L162.2 471.9 L163.4 471.3 L164.6 470.6 L165.7 469.9 L166.8 469.1 L167.8 468.5 L168.7 467.9 L169.4 467.4 L170.0 467.0" fill="none" stroke="#1c1c1c" stroke-width="2.3" stroke-linecap="round" stroke-linejoin="round"/>
<path d="M67.5 380.0 L68.9 381.7 L70.6 384.0 L72.8 386.6 L75.1 389.6 L77.7 392.8 L80.3 396.1 L82.9 399.5 L85.5 402.8 L87.9 405.9 L90.0 408.7 L92.0 411.4 L93.9 414.0 L95.7 416.7 L97.5 419.2 L99.2 421.8 L100.9 424.3 L102.6 426.7 L104.2 429.0 L105.8 431.2 L107.3 433.3 L108.8 435.3 L110.3 437.2 L111.7 439.0 L113.1 440.7 L114.5 442.4 L115.8 443.9 L117.1 445.4 L118.3 446.8 L119.5 448.1 L120.7 449.3 L121.8 450.4 L122.7 451.4 L123.5 452.3 L124.3 453.1 L125.0 453.8 L125.8 454.5 L126.6 455.1 L127.6 455.7 L128.7 456.2 L130.0 456.8 L131.5 457.4 L133.2 457.9 L135.1 458.5 L137.1 459.0 L139.1 459.5 L141.2 459.9 L143.2 460.3 L145.2 460.5 L147.0 460.7 L148.7 460.7 L150.3 460.6 L151.9 460.2 L153.5 459.8 L155.0 459.2 L156.5 458.6 L157.9 458.0 L159.2 457.3 L160.3 456.8 L161.2 456.3 L162.0 456.0" fill="none" stroke="#1c1c1c" stroke-width="2.3" stroke-linecap="round" stroke-linejoin="round"/>
<ellipse cx="148.6" cy="460.7" rx="2.6" ry="1.5" transform="rotate(0 148.6 460.7)" fill="#fff" stroke="#1c1c1c" stroke-width="1.3"/>
<ellipse cx="407.5" cy="396" rx="33.5" ry="38.8" transform="rotate(8 407.5 396)" fill="#1c1c1c" stroke="none" stroke-width="0"/>
<ellipse cx="407.5" cy="396" rx="33.5" ry="38.8" transform="rotate(8 407.5 396)" fill="none" stroke="#1c1c1c" stroke-width="0.8" stroke-dasharray="1.3 1.3"/>
<ellipse cx="412.5" cy="395.5" rx="23.5" ry="32.5" transform="rotate(10 412.5 395.5)" fill="none" stroke="#fff" stroke-width="2.0"/>
<ellipse cx="413" cy="394" rx="15.5" ry="23.5" transform="rotate(10 413 394)" fill="none" stroke="#fff" stroke-width="2.0"/>
<path d="M376.3 383.0 L376.7 382.6 L377.2 382.0 L377.8 381.3 L378.5 380.5 L379.2 379.8 L380.0 379.2 L380.9 378.7 L381.8 378.1 L382.8 377.6 L383.9 377.1 L384.9 376.7 L386.0 376.3 L387.0 375.9 L388.1 375.6 L389.2 375.3 L390.3 375.0 L391.4 374.8 L392.5 374.6 L393.7 374.4 L395.0 374.3 L396.4 374.1 L397.6 374.0 L398.6 374.0 L399.4 373.9 L434.4 415.8 L442.5 406.5 L419.0 383.0 L414.2 377.5 L415.0 364.0 L412.3 355.6 L400.0 347.0 L388.0 360.0 Z" fill="#fff"/>
<path d="M376.3 383.0 L376.7 382.6 L377.2 382.0 L377.8 381.3 L378.5 380.5 L379.2 379.8 L380.0 379.2 L380.9 378.7 L381.8 378.1 L382.8 377.6 L383.9 377.1 L384.9 376.7 L386.0 376.3 L387.0 375.9 L388.1 375.6 L389.2 375.3 L390.3 375.0 L391.4 374.8 L392.5 374.6 L393.7 374.4 L395.0 374.3 L396.4 374.1 L397.6 374.0 L398.6 374.0 L399.4 373.9" fill="none" stroke="#1c1c1c" stroke-width="1.5" stroke-linecap="round" stroke-linejoin="round"/>
<path d="M399.4 373.9 L434.4 415.8 L442.5 406.5" fill="none" stroke="#1c1c1c" stroke-width="2.0" stroke-linecap="round" stroke-linejoin="round"/>
<path d="M402.6 373.6 L436.5 413.4" fill="none" stroke="#1c1c1c" stroke-width="1.4" stroke-linecap="round" stroke-linejoin="round"/>
<path d="M412.3 355.6 L412.6 356.2 L413.1 357.0 L413.7 357.9 L414.2 358.9 L414.6 360.0 L414.9 361.0 L415.0 362.0 L415.2 363.1 L415.2 364.4 L415.2 366.0 L415.1 368.1 L414.9 370.8 L414.6 373.5 L414.4 375.8 L414.2 377.5" fill="none" stroke="#1c1c1c" stroke-width="1.6" stroke-linecap="round" stroke-linejoin="round"/>
<ellipse cx="396.9" cy="358.7" rx="1.6" ry="1.6" transform="rotate(0 396.9 358.7)" fill="#1c1c1c" stroke="none" stroke-width="0"/>
<path d="M418.8 380.5 L486.7 401.6 L503.2 424.5 L415.2 392.4 L415.2 392.4 L414.9 392.0 L414.5 391.5 L414.0 391.0 L413.6 390.3 L413.3 389.5 L413.2 388.6 L413.2 387.6 L413.2 386.5 L413.4 385.4 L413.6 384.5 L413.9 383.7 L414.3 382.9 L414.8 382.3 L415.3 381.7 L415.8 381.2 L416.4 380.9 L417.1 380.7 L417.8 380.6 L418.4 380.6 L418.8 380.5 Z" fill="#fff"/>
<path d="M418.8 380.5 L486.7 401.6" fill="none" stroke="#1c1c1c" stroke-width="2.3" stroke-linecap="round" stroke-linejoin="round"/>
<path d="M415.2 392.4 L503.2 424.5" fill="none" stroke="#1c1c1c" stroke-width="2.3" stroke-linecap="round" stroke-linejoin="round"/>
<path d="M415.2 392.4 L414.9 392.0 L414.5 391.5 L414.0 391.0 L413.6 390.3 L413.3 389.5 L413.2 388.6 L413.2 387.6 L413.2 386.5 L413.4 385.4 L413.6 384.5 L413.9 383.7 L414.3 382.9 L414.8 382.3 L415.3 381.7 L415.8 381.2 L416.4 380.9 L417.1 380.7 L417.8 380.6 L418.4 380.6 L418.8 380.5" fill="none" stroke="#1c1c1c" stroke-width="2.3" stroke-linecap="round" stroke-linejoin="round"/>
<path d="M406.0 341.0 L406.5 340.5 L407.2 339.8 L408.0 339.0 L408.9 338.1 L409.9 337.2 L410.9 336.2 L412.0 335.3 L413.0 334.4 L414.0 333.6 L415.0 333.0 L415.9 332.5 L416.8 332.0 L417.7 331.6 L418.5 331.3 L419.4 331.0 L420.3 330.7 L421.2 330.5 L422.2 330.3 L423.2 330.2 L424.3 330.0 L425.4 329.9 L426.7 329.7 L427.9 329.7 L429.2 329.6 L430.5 329.6 L431.9 329.6 L433.2 329.6 L434.6 329.7 L435.9 329.8 L437.2 330.0 L438.5 330.2 L439.8 330.4 L441.0 330.7 L442.3 331.0 L443.6 331.4 L444.9 331.7 L446.2 332.2 L447.4 332.7 L448.7 333.2 L450.0 333.8 L451.3 334.4 L452.6 335.0 L453.9 335.8 L455.2 336.5 L456.5 337.3 L457.8 338.2 L459.1 339.0 L460.4 340.0 L461.6 341.0 L462.8 342.0 L463.9 343.0 L464.8 343.8 L465.6 344.6 L466.4 345.4 L467.1 346.3 L468.0 347.3 L469.1 348.7 L470.3 350.3 L471.9 352.3 L473.8 354.8 L476.1 357.9 L478.9 361.6 L482.0 365.8 L485.3 370.3 L488.8 375.0 L492.3 379.8 L495.7 384.6 L499.1 389.1 L502.2 393.3 L505.0 397.0 L507.6 400.4 L510.2 403.8 L512.8 407.0 L515.3 410.1 L517.6 413.0 L519.8 415.7 L521.8 418.1 L523.6 420.3 L525.1 422.2 L526.3 423.7 L518.3 438.6 L517.2 437.4 L515.6 435.9 L513.9 434.1 L511.8 432.1 L509.7 429.9 L507.5 427.7 L505.3 425.4 L503.2 423.2 L501.2 421.0 L499.5 419.0 L498.0 417.2 L496.6 415.4 L495.4 413.6 L494.2 411.9 L493.1 410.2 L491.9 408.5 L490.8 406.7 L489.5 404.8 L488.2 402.8 L486.7 400.7 L485.1 398.4 L483.4 396.0 L481.5 393.4 L479.7 390.8 L477.8 388.1 L475.8 385.4 L473.9 382.7 L472.0 380.0 L470.1 377.5 L468.3 375.0 L466.5 372.6 L464.6 370.1 L462.8 367.6 L460.9 365.1 L459.1 362.7 L457.3 360.3 L455.6 358.1 L454.1 356.1 L452.7 354.3 L451.5 352.8 L450.5 351.5 L449.8 350.5 L449.2 349.7 L448.7 349.1 L448.4 348.7 L448.0 348.3 L447.7 348.0 L447.4 347.7 L447.0 347.4 L446.5 347.0 L445.9 346.6 L445.3 346.2 L444.7 345.9 L444.1 345.6 L443.5 345.4 L442.8 345.1 L442.1 345.0 L441.4 344.8 L440.7 344.7 L440.0 344.6 L439.3 344.6 L438.5 344.6 L437.8 344.6 L437.0 344.7 L436.2 344.8 L435.4 344.9 L434.6 345.1 L433.7 345.3 L432.7 345.5 L431.7 345.7 L430.6 346.0 L429.5 346.3 L428.3 346.7 L427.0 347.1 L425.8 347.6 L424.4 348.0 L423.1 348.4 L421.7 348.8 L420.3 349.1 L418.8 349.3 L417.2 349.4 L415.5 349.5 L413.6 349.6 L411.7 349.6 L409.7 349.5 L407.9 349.5 L406.2 349.4 L404.6 349.4 L403.3 349.3 L402.3 349.3 Z" fill="#fff"/>
<path d="M406.0 341.0 L406.5 340.5 L407.2 339.8 L408.0 339.0 L408.9 338.1 L409.9 337.2 L410.9 336.2 L412.0 335.3 L413.0 334.4 L414.0 333.6 L415.0 333.0 L415.9 332.5 L416.8 332.0 L417.7 331.6 L418.5 331.3 L419.4 331.0 L420.3 330.7 L421.2 330.5 L422.2 330.3 L423.2 330.2 L424.3 330.0 L425.4 329.9 L426.7 329.7 L427.9 329.7 L429.2 329.6 L430.5 329.6 L431.9 329.6 L433.2 329.6 L434.6 329.7 L435.9 329.8 L437.2 330.0 L438.5 330.2 L439.8 330.4 L441.0 330.7 L442.3 331.0 L443.6 331.4 L444.9 331.7 L446.2 332.2 L447.4 332.7 L448.7 333.2 L450.0 333.8 L451.3 334.4 L452.6 335.0 L453.9 335.8 L455.2 336.5 L456.5 337.3 L457.8 338.2 L459.1 339.0 L460.4 340.0 L461.6 341.0 L462.8 342.0 L463.9 343.0 L464.8 343.8 L465.6 344.6 L466.4 345.4 L467.1 346.3 L468.0 347.3 L469.1 348.7 L470.3 350.3 L471.9 352.3 L473.8 354.8 L476.1 357.9 L478.9 361.6 L482.0 365.8 L485.3 370.3 L488.8 375.0 L492.3 379.8 L495.7 384.6 L499.1 389.1 L502.2 393.3 L505.0 397.0 L507.6 400.4 L510.2 403.8 L512.8 407.0 L515.3 410.1 L517.6 413.0 L519.8 415.7 L521.8 418.1 L523.6 420.3 L525.1 422.2 L526.3 423.7" fill="none" stroke="#1c1c1c" stroke-width="2.3" stroke-linecap="round" stroke-linejoin="round"/>
<path d="M402.3 349.3 L403.3 349.3 L404.6 349.4 L406.2 349.4 L407.9 349.5 L409.7 349.5 L411.7 349.6 L413.6 349.6 L415.5 349.5 L417.2 349.4 L418.8 349.3 L420.3 349.1 L421.7 348.8 L423.1 348.4 L424.4 348.0 L425.8 347.6 L427.0 347.1 L428.3 346.7 L429.5 346.3 L430.6 346.0 L431.7 345.7 L432.7 345.5 L433.7 345.3 L434.6 345.1 L435.4 344.9 L436.2 344.8 L437.0 344.7 L437.8 344.6 L438.5 344.6 L439.3 344.6 L440.0 344.6 L440.7 344.7 L441.4 344.8 L442.1 345.0 L442.8 345.1 L443.5 345.4 L444.1 345.6 L444.7 345.9 L445.3 346.2 L445.9 346.6 L446.5 347.0 L447.0 347.4 L447.4 347.7 L447.7 348.0 L448.0 348.3 L448.4 348.7 L448.7 349.1 L449.2 349.7 L449.8 350.5 L450.5 351.5 L451.5 352.8 L452.7 354.3 L454.1 356.1 L455.6 358.1 L457.3 360.3 L459.1 362.7 L460.9 365.1 L462.8 367.6 L464.6 370.1 L466.5 372.6 L468.3 375.0 L470.1 377.5 L472.0 380.0 L473.9 382.7 L475.8 385.4 L477.8 388.1 L479.7 390.8 L481.5 393.4 L483.4 396.0 L485.1 398.4 L486.7 400.7 L488.2 402.8 L489.5 404.8 L490.8 406.7 L491.9 408.5 L493.1 410.2 L494.2 411.9 L495.4 413.6 L496.6 415.4 L498.0 417.2 L499.5 419.0 L501.2 421.0 L503.2 423.2 L505.3 425.4 L507.5 427.7 L509.7 429.9 L511.8 432.1 L513.9 434.1 L515.6 435.9 L517.2 437.4 L518.3 438.6" fill="none" stroke="#1c1c1c" stroke-width="2.3" stroke-linecap="round" stroke-linejoin="round"/>
<path d="M447.5 351.5 L503.2 424.5 L516 440" fill="none" stroke="#1c1c1c" stroke-width="1.5" stroke-linecap="round" stroke-linejoin="round"/>
<ellipse cx="513.9" cy="419.2" rx="1.5" ry="1.9" transform="rotate(0 513.9 419.2)" fill="#1c1c1c" stroke="none" stroke-width="0"/>
<path d="M510.8 416.5 Q509.2 419 510.8 421.8" fill="none" stroke="#1c1c1c" stroke-width="1"/>
<path d="M51.7 355.9 L51.9 355.9 L52.2 355.8 L52.4 355.7 L52.7 355.6 L53.1 355.5 L53.6 355.4 L54.1 355.4 L54.8 355.5 L55.7 355.7 L56.7 356.0 L57.9 356.4 L59.4 357.0 L61.0 357.7 L62.8 358.4 L64.6 359.2 L66.5 360.1 L68.5 361.0 L70.4 361.8 L72.2 362.6 L74.0 363.4 L75.7 364.1 L77.2 364.8 L78.8 365.4 L80.3 366.0 L81.8 366.6 L83.4 367.3 L85.1 368.0 L86.8 368.8 L88.7 369.7 L90.8 370.8 L93.1 372.0 L95.7 373.4 L98.5 375.0 L101.4 376.6 L104.3 378.3 L107.2 380.0 L110.1 381.7 L112.7 383.3 L115.2 384.7 L117.3 386.0 L119.1 387.1 L120.7 388.1 L122.1 389.0 L123.3 389.8 L124.5 390.6 L125.5 391.3 L126.6 392.1 L127.6 392.9 L128.8 393.7 L130.0 394.7 L131.3 395.8 L132.6 396.8 L133.9 398.0 L135.3 399.1 L136.6 400.3 L137.9 401.6 L139.3 402.8 L140.6 404.1 L142.0 405.4 L143.3 406.7 L144.6 408.0 L146.0 409.4 L147.3 410.8 L148.7 412.2 L150.0 413.7 L151.3 415.1 L152.7 416.6 L154.0 418.2 L155.4 419.7 L156.7 421.3 L158.0 422.9 L159.4 424.6 L160.7 426.3 L162.1 428.1 L163.5 429.8 L164.8 431.6 L166.1 433.4 L167.4 435.2 L168.7 437.0 L170.0 438.7 L171.2 440.4 L172.3 442.0 L173.4 443.6 L174.5 445.2 L175.5 446.8 L176.6 448.4 L177.8 450.1 L179.0 451.9 L180.3 453.8 L181.7 455.8 L183.3 458.0 L185.0 460.3 L186.8 462.7 L188.7 465.3 L190.6 467.9 L192.5 470.5 L194.5 473.0 L196.4 475.6 L198.2 478.0 L200.0 480.4 L201.7 482.7 L203.5 485.1 L205.2 487.4 L206.9 489.7 L208.6 492.0 L210.3 494.2 L211.8 496.2 L213.3 498.2 L214.7 499.9 L216.0 501.5 L217.1 502.8 L218.1 504.0 L219.0 504.9 L219.8 505.8 L220.6 506.5 L221.3 507.1 L222.0 507.7 L222.8 508.3 L223.6 508.9 L224.5 509.5 L225.5 510.2 L226.5 510.8 L227.5 511.4 L228.5 512.0 L229.5 512.5 L230.6 513.1 L231.7 513.5 L232.8 514.0 L233.9 514.4 L235.0 514.8 L236.1 515.1 L237.3 515.5 L238.4 515.8 L239.6 516.0 L240.8 516.2 L242.0 516.4 L243.2 516.6 L244.4 516.7 L245.5 516.7 L246.7 516.7 L247.9 516.6 L249.0 516.5 L250.2 516.4 L251.3 516.2 L252.5 515.9 L253.6 515.6 L254.7 515.3 L255.8 514.9 L256.9 514.5 L258.0 514.0 L259.1 513.5 L260.1 512.9 L261.1 512.2 L262.1 511.5 L263.1 510.8 L264.1 510.0 L265.1 509.2 L266.1 508.3 L267.0 507.4 L268.0 506.5 L268.9 505.6 L269.7 504.8 L270.5 504.0 L271.2 503.1 L272.0 502.2 L272.8 501.2 L273.7 500.0 L274.8 498.6 L276.0 497.0 L277.4 495.0 L278.9 492.8 L280.5 490.6 L282.1 488.2 L283.8 485.6 L285.7 482.8 L287.8 479.7 L290.1 476.3 L292.6 472.6 L295.5 468.5 L298.7 464.0 L302.3 459.1 L306.1 453.8 L310.3 448.1 L314.6 442.2 L319.3 435.9 L324.1 429.3 L329.2 422.4 L334.4 415.2 L339.8 407.7 L345.3 400.0 L351.1 391.7 L357.4 382.8 L363.9 373.3 L370.7 363.5 L377.6 353.5 L384.5 343.5 L391.3 333.7 L397.9 324.1 L404.2 315.1 L410.0 306.7 L415.5 298.9 L420.7 291.4 L425.8 284.2 L430.6 277.3 L435.3 270.6 L439.8 264.2 L444.2 257.9 L448.5 251.8 L452.7 245.9 L456.7 240.0 L460.7 234.1 L464.7 228.2 L468.6 222.4 L472.3 216.7 L476.0 211.2 L479.4 206.0 L482.5 201.2 L485.4 196.9 L487.9 193.1 L490.0 190.0 L491.6 187.6 L492.8 186.0 L493.5 185.0 L494.0 184.5 L494.2 184.4 L494.3 184.5 L494.3 184.7 L494.4 184.8 L494.6 184.8 L495.0 184.5 L495.6 184.0 L496.1 183.5 L496.7 183.1 L497.2 182.6 L497.8 182.2 L498.4 181.7 L499.1 181.3 L499.8 180.9 L500.5 180.5 L501.4 180.2 L502.3 179.9 L503.4 179.5 L504.4 179.2 L505.6 178.9 L506.7 178.6 L508.0 178.4 L509.2 178.2 L510.4 178.0 L511.7 177.9 L512.9 177.9 L514.1 178.0 L515.4 178.1 L516.8 178.2 L518.1 178.4 L519.5 178.7 L520.8 179.0 L522.1 179.4 L523.4 179.8 L524.6 180.2 L525.7 180.7 L526.7 181.2 L527.7 181.8 L528.6 182.4 L529.5 183.1 L530.4 183.8 L531.2 184.5 L532.0 185.3 L532.7 186.1 L533.5 187.0 L534.3 187.9 L535.1 188.9 L535.9 190.1 L536.8 191.4 L537.6 192.7 L538.4 194.1 L539.1 195.4 L539.8 196.6 L540.5 197.7 L541.0 198.6 L541.4 199.3 L541.4 199.3 L540.9 200.3 L540.2 201.8 L539.4 203.3 L538.5 204.5 L537.4 205.3 L536.2 206.0 L535.0 206.4 L534.0 206.8 L533.2 207.0 L532.5 207.0 L531.9 207.0 L531.5 207.0 L531.5 207.0 L531.3 207.0 L531.2 207.0 L530.9 207.1 L530.7 207.2 L530.4 207.2 L530.1 207.2 L529.8 207.2 L529.4 207.0 L529.0 206.8 L528.6 206.4 L528.1 205.9 L527.6 205.1 L527.1 204.3 L526.5 203.4 L525.9 202.4 L525.3 201.4 L524.7 200.4 L524.1 199.5 L523.5 198.6 L522.9 197.9 L522.3 197.2 L521.7 196.6 L521.1 196.0 L520.5 195.5 L519.9 194.9 L519.3 194.4 L518.8 194.0 L518.2 193.6 L517.6 193.2 L517.0 192.9 L516.4 192.6 L515.9 192.4 L515.3 192.2 L514.8 192.0 L514.3 191.9 L513.7 191.8 L513.2 191.8 L512.6 191.8 L512.0 191.9 L511.4 192.0 L510.7 192.2 L510.0 192.4 L509.3 192.7 L508.5 193.1 L507.8 193.5 L507.0 193.9 L506.3 194.4 L505.6 194.8 L504.9 195.3 L504.3 195.7 L503.8 196.1 L503.2 196.6 L502.8 197.0 L502.3 197.5 L501.9 198.0 L501.5 198.4 L501.1 198.9 L500.7 199.5 L500.4 200.0 L500.0 200.5 L499.7 201.0 L499.4 201.5 L499.2 202.0 L499.0 202.4 L498.8 202.9 L498.5 203.5 L498.3 204.1 L497.9 204.8 L497.5 205.5 L497.0 206.4 L496.4 207.4 L495.7 208.4 L495.0 209.6 L494.3 210.8 L493.4 212.1 L492.6 213.4 L491.7 214.8 L490.7 216.2 L489.7 217.7 L488.6 219.3 L487.5 221.0 L486.2 222.7 L484.9 224.6 L483.5 226.5 L482.1 228.5 L480.7 230.5 L479.2 232.5 L477.9 234.4 L476.5 236.2 L475.3 238.0 L474.3 239.5 L473.5 240.5 L472.9 241.4 L472.3 242.1 L471.7 242.9 L471.0 244.0 L470.0 245.4 L468.7 247.3 L467.0 249.9 L464.7 253.3 L462.0 257.4 L459.0 262.0 L455.8 267.1 L452.2 272.7 L448.3 278.8 L444.1 285.2 L439.6 292.1 L434.8 299.5 L429.6 307.2 L424.0 315.3 L417.8 324.2 L410.8 334.2 L403.1 345.0 L395.1 356.2 L386.9 367.8 L378.7 379.2 L370.7 390.4 L363.1 401.0 L356.1 410.7 L350.0 419.3 L344.6 426.9 L339.6 434.0 L335.0 440.5 L330.8 446.5 L326.9 452.0 L323.3 457.1 L319.9 461.8 L316.8 466.2 L314.0 470.2 L311.3 474.0 L308.9 477.3 L307.0 480.0 L305.5 482.2 L304.2 484.0 L303.1 485.6 L302.2 486.9 L301.2 488.2 L300.3 489.5 L299.2 490.9 L298.0 492.6 L296.6 494.5 L295.1 496.4 L293.7 498.4 L292.2 500.4 L290.7 502.4 L289.2 504.3 L287.8 506.2 L286.4 507.9 L285.2 509.5 L284.0 511.0 L283.0 512.3 L282.0 513.4 L281.2 514.4 L280.5 515.3 L279.8 516.1 L279.1 516.9 L278.4 517.7 L277.6 518.4 L276.9 519.2 L276.0 520.0 L275.1 520.9 L274.2 521.7 L273.2 522.6 L272.2 523.4 L271.2 524.3 L270.2 525.1 L269.2 525.9 L268.2 526.6 L267.1 527.3 L266.0 528.0 L264.9 528.6 L263.7 529.2 L262.5 529.8 L261.3 530.3 L260.0 530.8 L258.8 531.2 L257.6 531.6 L256.3 532.0 L255.2 532.3 L254.0 532.6 L252.9 532.8 L251.9 533.0 L250.9 533.2 L250.0 533.3 L249.0 533.4 L248.1 533.5 L247.0 533.5 L245.9 533.4 L244.7 533.4 L243.3 533.3 L241.7 533.2 L240.0 533.0 L238.1 532.8 L236.1 532.6 L234.0 532.3 L232.0 532.0 L230.0 531.7 L228.2 531.3 L226.5 531.0 L225.0 530.6 L223.7 530.2 L222.6 529.9 L221.6 529.5 L220.7 529.0 L219.8 528.6 L219.1 528.2 L218.3 527.7 L217.6 527.1 L216.8 526.6 L216.0 526.0 L215.2 525.4 L214.6 524.9 L214.0 524.5 L213.4 524.0 L212.9 523.5 L212.2 522.8 L211.5 522.0 L210.6 521.0 L209.6 519.8 L208.3 518.3 L206.8 516.5 L205.0 514.3 L203.1 511.9 L201.1 509.3 L198.9 506.5 L196.7 503.7 L194.4 500.8 L192.2 497.9 L190.1 495.2 L188.0 492.5 L186.0 489.9 L183.9 487.1 L181.7 484.3 L179.6 481.5 L177.4 478.7 L175.4 475.9 L173.4 473.3 L171.5 470.9 L169.8 468.7 L168.3 466.7 L167.0 465.1 L165.9 463.7 L165.0 462.7 L164.3 461.8 L163.6 461.0 L162.9 460.2 L162.2 459.4 L161.4 458.5 L160.4 457.4 L159.3 456.0 L158.0 454.4 L156.5 452.5 L154.9 450.6 L153.3 448.5 L151.6 446.3 L149.8 444.2 L148.1 442.0 L146.4 439.9 L144.8 437.9 L143.3 436.0 L141.9 434.2 L140.5 432.5 L139.1 430.8 L137.8 429.2 L136.5 427.6 L135.2 426.0 L133.9 424.5 L132.6 423.0 L131.3 421.5 L130.0 420.0 L128.7 418.5 L127.3 417.1 L126.0 415.7 L124.7 414.3 L123.4 412.9 L122.0 411.6 L120.7 410.3 L119.4 409.1 L118.0 407.9 L116.7 406.7 L115.4 405.6 L114.0 404.5 L112.7 403.5 L111.3 402.5 L110.0 401.5 L108.7 400.6 L107.3 399.7 L106.0 398.9 L104.6 398.1 L103.3 397.3 L102.0 396.6 L100.8 395.9 L99.5 395.4 L98.3 394.8 L97.1 394.3 L95.9 393.8 L94.5 393.3 L93.1 392.7 L91.6 392.0 L90.0 391.3 L88.1 390.5 L86.0 389.5 L83.7 388.4 L81.3 387.3 L78.9 386.2 L76.5 385.1 L74.3 384.1 L72.3 383.2 L70.5 382.4 L69.2 381.7 L68.3 381.2 L67.8 380.9 L67.5 380.7 L67.5 380.6 L67.6 380.5 L67.8 380.5 L68.0 380.5 L68.0 380.4 L67.9 380.3 L67.5 380.0 L66.9 379.7 L66.1 379.3 L65.2 378.8 L64.3 378.4 L63.2 377.9 L62.2 377.4 L61.1 376.9 L60.0 376.4 L59.0 375.9 L58.0 375.4 L57.0 374.9 L56.0 374.4 L54.9 373.9 L53.9 373.4 L52.8 372.9 L51.8 372.4 L50.8 371.9 L49.9 371.5 L49.0 371.1 L48.3 370.8 L47.6 370.6 L47.1 370.4 L46.5 370.3 L46.1 370.2 L45.6 370.1 L45.3 370.1 L45.0 370.1 L44.7 370.0 L44.4 370.0 L44.2 370.0 L44.2 370.0 L44.0 369.5 L43.6 368.9 L43.2 368.1 L42.8 367.2 L42.5 366.3 L42.3 365.5 L42.3 364.7 L42.4 363.8 L42.6 362.9 L42.8 362.1 L43.1 361.3 L43.5 360.5 L43.9 359.8 L44.5 359.1 L45.0 358.5 L45.7 357.9 L46.3 357.4 L47.0 357.0 L47.8 356.7 L48.7 356.4 L49.6 356.2 L50.4 356.1 L51.2 356.0 L51.7 355.9 Z" fill="#fff"/>
<path d="M51.7 355.9 L51.9 355.9 L52.2 355.8 L52.4 355.7 L52.7 355.6 L53.1 355.5 L53.6 355.4 L54.1 355.4 L54.8 355.5 L55.7 355.7 L56.7 356.0 L57.9 356.4 L59.4 357.0 L61.0 357.7 L62.8 358.4 L64.6 359.2 L66.5 360.1 L68.5 361.0 L70.4 361.8 L72.2 362.6 L74.0 363.4 L75.7 364.1 L77.2 364.8 L78.8 365.4 L80.3 366.0 L81.8 366.6 L83.4 367.3 L85.1 368.0 L86.8 368.8 L88.7 369.7 L90.8 370.8 L93.1 372.0 L95.7 373.4 L98.5 375.0 L101.4 376.6 L104.3 378.3 L107.2 380.0 L110.1 381.7 L112.7 383.3 L115.2 384.7 L117.3 386.0 L119.1 387.1 L120.7 388.1 L122.1 389.0 L123.3 389.8 L124.5 390.6 L125.5 391.3 L126.6 392.1 L127.6 392.9 L128.8 393.7 L130.0 394.7 L131.3 395.8 L132.6 396.8 L133.9 398.0 L135.3 399.1 L136.6 400.3 L137.9 401.6 L139.3 402.8 L140.6 404.1 L142.0 405.4 L143.3 406.7 L144.6 408.0 L146.0 409.4 L147.3 410.8 L148.7 412.2 L150.0 413.7 L151.3 415.1 L152.7 416.6 L154.0 418.2 L155.4 419.7 L156.7 421.3 L158.0 422.9 L159.4 424.6 L160.7 426.3 L162.1 428.1 L163.5 429.8 L164.8 431.6 L166.1 433.4 L167.4 435.2 L168.7 437.0 L170.0 438.7 L171.2 440.4 L172.3 442.0 L173.4 443.6 L174.5 445.2 L175.5 446.8 L176.6 448.4 L177.8 450.1 L179.0 451.9 L180.3 453.8 L181.7 455.8 L183.3 458.0 L185.0 460.3 L186.8 462.7 L188.7 465.3 L190.6 467.9 L192.5 470.5 L194.5 473.0 L196.4 475.6 L198.2 478.0 L200.0 480.4 L201.7 482.7 L203.5 485.1 L205.2 487.4 L206.9 489.7 L208.6 492.0 L210.3 494.2 L211.8 496.2 L213.3 498.2 L214.7 499.9 L216.0 501.5 L217.1 502.8 L218.1 504.0 L219.0 504.9 L219.8 505.8 L220.6 506.5 L221.3 507.1 L222.0 507.7 L222.8 508.3 L223.6 508.9 L224.5 509.5 L225.5 510.2 L226.5 510.8 L227.5 511.4 L228.5 512.0 L229.5 512.5 L230.6 513.1 L231.7 513.5 L232.8 514.0 L233.9 514.4 L235.0 514.8 L236.1 515.1 L237.3 515.5 L238.4 515.8 L239.6 516.0 L240.8 516.2 L242.0 516.4 L243.2 516.6 L244.4 516.7 L245.5 516.7 L246.7 516.7 L247.9 516.6 L249.0 516.5 L250.2 516.4 L251.3 516.2 L252.5 515.9 L253.6 515.6 L254.7 515.3 L255.8 514.9 L256.9 514.5 L258.0 514.0 L259.1 513.5 L260.1 512.9 L261.1 512.2 L262.1 511.5 L263.1 510.8 L264.1 510.0 L265.1 509.2 L266.1 508.3 L267.0 507.4 L268.0 506.5 L268.9 505.6 L269.7 504.8 L270.5 504.0 L271.2 503.1 L272.0 502.2 L272.8 501.2 L273.7 500.0 L274.8 498.6 L276.0 497.0 L277.4 495.0 L278.9 492.8 L280.5 490.6 L282.1 488.2 L283.8 485.6 L285.7 482.8 L287.8 479.7 L290.1 476.3 L292.6 472.6 L295.5 468.5 L298.7 464.0 L302.3 459.1 L306.1 453.8 L310.3 448.1 L314.6 442.2 L319.3 435.9 L324.1 429.3 L329.2 422.4 L334.4 415.2 L339.8 407.7 L345.3 400.0 L351.1 391.7 L357.4 382.8 L363.9 373.3 L370.7 363.5 L377.6 353.5 L384.5 343.5 L391.3 333.7 L397.9 324.1 L404.2 315.1 L410.0 306.7 L415.5 298.9 L420.7 291.4 L425.8 284.2 L430.6 277.3 L435.3 270.6 L439.8 264.2 L444.2 257.9 L448.5 251.8 L452.7 245.9 L456.7 240.0 L460.7 234.1 L464.7 228.2 L468.6 222.4 L472.3 216.7 L476.0 211.2 L479.4 206.0 L482.5 201.2 L485.4 196.9 L487.9 193.1 L490.0 190.0 L491.6 187.6 L492.8 186.0 L493.5 185.0 L494.0 184.5 L494.2 184.4 L494.3 184.5 L494.3 184.7 L494.4 184.8 L494.6 184.8 L495.0 184.5 L495.6 184.0 L496.1 183.5 L496.7 183.1 L497.2 182.6 L497.8 182.2 L498.4 181.7 L499.1 181.3 L499.8 180.9 L500.5 180.5 L501.4 180.2 L502.3 179.9 L503.4 179.5 L504.4 179.2 L505.6 178.9 L506.7 178.6 L508.0 178.4 L509.2 178.2 L510.4 178.0 L511.7 177.9 L512.9 177.9 L514.1 178.0 L515.4 178.1 L516.8 178.2 L518.1 178.4 L519.5 178.7 L520.8 179.0 L522.1 179.4 L523.4 179.8 L524.6 180.2 L525.7 180.7 L526.7 181.2 L527.7 181.8 L528.6 182.4 L529.5 183.1 L530.4 183.8 L531.2 184.5 L532.0 185.3 L532.7 186.1 L533.5 187.0 L534.3 187.9 L535.1 188.9 L535.9 190.1 L536.8 191.4 L537.6 192.7 L538.4 194.1 L539.1 195.4 L539.8 196.6 L540.5 197.7 L541.0 198.6 L541.4 199.3" fill="none" stroke="#1c1c1c" stroke-width="2.3" stroke-linecap="round" stroke-linejoin="round"/>
<path d="M44.2 370.0 L44.4 370.0 L44.7 370.0 L45.0 370.1 L45.3 370.1 L45.6 370.1 L46.1 370.2 L46.5 370.3 L47.1 370.4 L47.6 370.6 L48.3 370.8 L49.0 371.1 L49.9 371.5 L50.8 371.9 L51.8 372.4 L52.8 372.9 L53.9 373.4 L54.9 373.9 L56.0 374.4 L57.0 374.9 L58.0 375.4 L59.0 375.9 L60.0 376.4 L61.1 376.9 L62.2 377.4 L63.2 377.9 L64.3 378.4 L65.2 378.8 L66.1 379.3 L66.9 379.7 L67.5 380.0 L67.9 380.3 L68.0 380.4 L68.0 380.5 L67.8 380.5 L67.6 380.5 L67.5 380.6 L67.5 380.7 L67.8 380.9 L68.3 381.2 L69.2 381.7 L70.5 382.4 L72.3 383.2 L74.3 384.1 L76.5 385.1 L78.9 386.2 L81.3 387.3 L83.7 388.4 L86.0 389.5 L88.1 390.5 L90.0 391.3 L91.6 392.0 L93.1 392.7 L94.5 393.3 L95.9 393.8 L97.1 394.3 L98.3 394.8 L99.5 395.4 L100.8 395.9 L102.0 396.6 L103.3 397.3 L104.6 398.1 L106.0 398.9 L107.3 399.7 L108.7 400.6 L110.0 401.5 L111.3 402.5 L112.7 403.5 L114.0 404.5 L115.4 405.6 L116.7 406.7 L118.0 407.9 L119.4 409.1 L120.7 410.3 L122.0 411.6 L123.4 412.9 L124.7 414.3 L126.0 415.7 L127.3 417.1 L128.7 418.5 L130.0 420.0 L131.3 421.5 L132.6 423.0 L133.9 424.5 L135.2 426.0 L136.5 427.6 L137.8 429.2 L139.1 430.8 L140.5 432.5 L141.9 434.2 L143.3 436.0 L144.8 437.9 L146.4 439.9 L148.1 442.0 L149.8 444.2 L151.6 446.3 L153.3 448.5 L154.9 450.6 L156.5 452.5 L158.0 454.4 L159.3 456.0 L160.4 457.4 L161.4 458.5 L162.2 459.4 L162.9 460.2 L163.6 461.0 L164.3 461.8 L165.0 462.7 L165.9 463.7 L167.0 465.1 L168.3 466.7 L169.8 468.7 L171.5 470.9 L173.4 473.3 L175.4 475.9 L177.4 478.7 L179.6 481.5 L181.7 484.3 L183.9 487.1 L186.0 489.9 L188.0 492.5 L190.1 495.2 L192.2 497.9 L194.4 500.8 L196.7 503.7 L198.9 506.5 L201.1 509.3 L203.1 511.9 L205.0 514.3 L206.8 516.5 L208.3 518.3 L209.6 519.8 L210.6 521.0 L211.5 522.0 L212.2 522.8 L212.9 523.5 L213.4 524.0 L214.0 524.5 L214.6 524.9 L215.2 525.4 L216.0 526.0 L216.8 526.6 L217.6 527.1 L218.3 527.7 L219.1 528.2 L219.8 528.6 L220.7 529.0 L221.6 529.5 L222.6 529.9 L223.7 530.2 L225.0 530.6 L226.5 531.0 L228.2 531.3 L230.0 531.7 L232.0 532.0 L234.0 532.3 L236.1 532.6 L238.1 532.8 L240.0 533.0 L241.7 533.2 L243.3 533.3 L244.7 533.4 L245.9 533.4 L247.0 533.5 L248.1 533.5 L249.0 533.4 L250.0 533.3 L250.9 533.2 L251.9 533.0 L252.9 532.8 L254.0 532.6 L255.2 532.3 L256.3 532.0 L257.6 531.6 L258.8 531.2 L260.0 530.8 L261.3 530.3 L262.5 529.8 L263.7 529.2 L264.9 528.6 L266.0 528.0 L267.1 527.3 L268.2 526.6 L269.2 525.9 L270.2 525.1 L271.2 524.3 L272.2 523.4 L273.2 522.6 L274.2 521.7 L275.1 520.9 L276.0 520.0 L276.9 519.2 L277.6 518.4 L278.4 517.7 L279.1 516.9 L279.8 516.1 L280.5 515.3 L281.2 514.4 L282.0 513.4 L283.0 512.3 L284.0 511.0 L285.2 509.5 L286.4 507.9 L287.8 506.2 L289.2 504.3 L290.7 502.4 L292.2 500.4 L293.7 498.4 L295.1 496.4 L296.6 494.5 L298.0 492.6 L299.2 490.9 L300.3 489.5 L301.2 488.2 L302.2 486.9 L303.1 485.6 L304.2 484.0 L305.5 482.2 L307.0 480.0 L308.9 477.3 L311.3 474.0 L314.0 470.2 L316.8 466.2 L319.9 461.8 L323.3 457.1 L326.9 452.0 L330.8 446.5 L335.0 440.5 L339.6 434.0 L344.6 426.9 L350.0 419.3 L356.1 410.7 L363.1 401.0 L370.7 390.4 L378.7 379.2 L386.9 367.8 L395.1 356.2 L403.1 345.0 L410.8 334.2 L417.8 324.2 L424.0 315.3 L429.6 307.2 L434.8 299.5 L439.6 292.1 L444.1 285.2 L448.3 278.8 L452.2 272.7 L455.8 267.1 L459.0 262.0 L462.0 257.4 L464.7 253.3 L467.0 249.9 L468.7 247.3 L470.0 245.4 L471.0 244.0 L471.7 242.9 L472.3 242.1 L472.9 241.4 L473.5 240.5 L474.3 239.5 L475.3 238.0 L476.5 236.2 L477.9 234.4 L479.2 232.5 L480.7 230.5 L482.1 228.5 L483.5 226.5 L484.9 224.6 L486.2 222.7 L487.5 221.0 L488.6 219.3 L489.7 217.7 L490.7 216.2 L491.7 214.8 L492.6 213.4 L493.4 212.1 L494.3 210.8 L495.0 209.6 L495.7 208.4 L496.4 207.4 L497.0 206.4 L497.5 205.5 L497.9 204.8 L498.3 204.1 L498.5 203.5 L498.8 202.9 L499.0 202.4 L499.2 202.0 L499.4 201.5 L499.7 201.0 L500.0 200.5 L500.4 200.0 L500.7 199.5 L501.1 198.9 L501.5 198.4 L501.9 198.0 L502.3 197.5 L502.8 197.0 L503.2 196.6 L503.8 196.1 L504.3 195.7 L504.9 195.3 L505.6 194.8 L506.3 194.4 L507.0 193.9 L507.8 193.5 L508.5 193.1 L509.3 192.7 L510.0 192.4 L510.7 192.2 L511.4 192.0 L512.0 191.9 L512.6 191.8 L513.2 191.8 L513.7 191.8 L514.3 191.9 L514.8 192.0 L515.3 192.2 L515.9 192.4 L516.4 192.6 L517.0 192.9 L517.6 193.2 L518.2 193.6 L518.8 194.0 L519.3 194.4 L519.9 194.9 L520.5 195.5 L521.1 196.0 L521.7 196.6 L522.3 197.2 L522.9 197.9 L523.5 198.6 L524.1 199.5 L524.7 200.4 L525.3 201.4 L525.9 202.4 L526.5 203.4 L527.1 204.3 L527.6 205.1 L528.1 205.9 L528.6 206.4 L529.0 206.8 L529.4 207.0 L529.8 207.2 L530.1 207.2 L530.4 207.2 L530.7 207.2 L530.9 207.1 L531.2 207.0 L531.3 207.0 L531.5 207.0" fill="none" stroke="#1c1c1c" stroke-width="2.3" stroke-linecap="round" stroke-linejoin="round"/>
<path d="M44.2 370.0 L44.0 369.5 L43.6 368.9 L43.2 368.1 L42.8 367.2 L42.5 366.3 L42.3 365.5 L42.3 364.7 L42.4 363.8 L42.6 362.9 L42.8 362.1 L43.1 361.3 L43.5 360.5 L43.9 359.8 L44.5 359.1 L45.0 358.5 L45.7 357.9 L46.3 357.4 L47.0 357.0 L47.8 356.7 L48.7 356.4 L49.6 356.2 L50.4 356.1 L51.2 356.0 L51.7 355.9" fill="none" stroke="#1c1c1c" stroke-width="2.3" stroke-linecap="round" stroke-linejoin="round"/>
<path d="M300.7 462.7 Q308 465 312 472.5" fill="none" stroke="#1c1c1c" stroke-width="1.8" stroke-linecap="round" stroke-linejoin="round"/>
<ellipse cx="295.5" cy="469.2" rx="2.3" ry="1.5" transform="rotate(-54 295.5 469.2)" fill="#fff" stroke="#1c1c1c" stroke-width="1.1"/>
<ellipse cx="293.6" cy="467.8" rx="1.6" ry="1.6" transform="rotate(0 293.6 467.8)" fill="#1c1c1c" stroke="none" stroke-width="0"/>
<ellipse cx="284.5" cy="483.2" rx="2.3" ry="1.5" transform="rotate(-54 284.5 483.2)" fill="#fff" stroke="#1c1c1c" stroke-width="1.1"/>
<ellipse cx="282.6" cy="481.8" rx="1.6" ry="1.6" transform="rotate(0 282.6 481.8)" fill="#1c1c1c" stroke="none" stroke-width="0"/>
<ellipse cx="500.7" cy="202.3" rx="2.6" ry="2.6" transform="rotate(0 500.7 202.3)" fill="#fff" stroke="#1c1c1c" stroke-width="1.6"/>
<ellipse cx="501.2" cy="202.3" rx="1.2" ry="1.4" transform="rotate(0 501.2 202.3)" fill="#1c1c1c" stroke="none" stroke-width="0"/>
<ellipse cx="535" cy="197.6" rx="1.3" ry="1.3" transform="rotate(0 535 197.6)" fill="#1c1c1c" stroke="none" stroke-width="0"/>
<ellipse cx="537.4" cy="201" rx="1.3" ry="1.3" transform="rotate(0 537.4 201)" fill="#1c1c1c" stroke="none" stroke-width="0"/>
<ellipse cx="247.7" cy="516.7" rx="2.8" ry="1.6" transform="rotate(0 247.7 516.7)" fill="#fff" stroke="#1c1c1c" stroke-width="1.3"/>
<path d="M456.0 248.7 L465.4 252.9 L411.2 334.6 L403.8 326.8 Z" fill="#1c1c1c"/>
<text style="will-change:transform;fill:#fff" transform="translate(421.9 315.8) rotate(-55.6)" font-size="9.2" font-weight="bold">BOSCH</text>
<ellipse cx="414.3" cy="319.9" rx="4.9" ry="4.9" transform="rotate(0 414.3 319.9)" fill="#fff" stroke="none" stroke-width="0"/>
<path d="M414.3 316.6 L414.3 323.2" fill="none" stroke="#999" stroke-width="0.7" stroke-linecap="round" stroke-linejoin="round"/>
<path d="M411.8 319.9 L416.8 319.9" fill="none" stroke="#999" stroke-width="0.7" stroke-linecap="round" stroke-linejoin="round"/>
<ellipse cx="414.3" cy="319.9" rx="2.6" ry="2.6" transform="rotate(0 414.3 319.9)" fill="none" stroke="#999" stroke-width="0.6"/>
<text style="will-change:transform;fill:#fff" transform="translate(447.9 277.6) rotate(-55.6)" font-size="4.4" font-weight="bold">GTA 2500 W</text>
<text style="will-change:transform;fill:#ddd" transform="translate(450.6 279.4) rotate(-55.6)" font-size="2.6" font-style="italic">Professional</text>
<path d="M394 203 L467 217.5 Q478 221 476 230 Q474 238 464 236.5 L386 217.7 Z" fill="#fff" stroke="#1c1c1c" stroke-width="2.3" stroke-linejoin="round"/>
<path d="M354.0 198.5 L396.0 203.0 L388.0 218.5 L348.0 209.0 Z" fill="#1c1c1c"/>
<path d="M409.0 224.5 L434.0 231.5 L432.0 234.5 L415.0 230.5 Z" fill="#fff" stroke="#1c1c1c" stroke-width="1.6" stroke-linejoin="round"/>
<path d="M414 327.5 L420 326 L421 338 L415.5 336.5 Z" fill="#fff" stroke="#1c1c1c" stroke-width="1.4" stroke-linejoin="round"/>
<ellipse cx="420.8" cy="332.1" rx="5.2" ry="6.1" transform="rotate(-12 420.8 332.1)" fill="#1c1c1c" stroke="none" stroke-width="0"/>
<ellipse cx="419.6" cy="331.8" rx="5.6" ry="6.6" transform="rotate(-12 419.6 331.8)" fill="none" stroke="#1c1c1c" stroke-width="1"/>
<ellipse cx="400.9" cy="312.8" rx="3.0" ry="2.2" transform="rotate(-25 400.9 312.8)" fill="#1c1c1c" stroke="none" stroke-width="0"/>
<path d="M397.5 316.5 Q401.5 319 405.2 315" fill="none" stroke="#1c1c1c" stroke-width="1.1"/>
<ellipse cx="391.2" cy="332.5" rx="2.8" ry="3.2" transform="rotate(0 391.2 332.5)" fill="#1c1c1c" stroke="none" stroke-width="0"/>
<ellipse cx="405.2" cy="338.6" rx="2.2" ry="2.4" transform="rotate(0 405.2 338.6)" fill="#1c1c1c" stroke="none" stroke-width="0"/>
<path d="M401.6 335.6 Q400 338.6 401.8 341.8" fill="none" stroke="#1c1c1c" stroke-width="1.1"/>
<ellipse cx="397.4" cy="358.9" rx="1.6" ry="1.6" transform="rotate(0 397.4 358.9)" fill="#1c1c1c" stroke="none" stroke-width="0"/>
<path d="M92.0 371.0 L98.0 366.0 L107.0 371.0 L112.0 362.0 L118.0 364.0 L118.5 385.0 L108.0 385.0 L102.0 390.6 L94.0 387.0 Z" fill="#fff" stroke="#1c1c1c" stroke-width="2.3" stroke-linejoin="round"/>
<path d="M92.0 371.0 L98.0 366.0 L103.0 370.0 L100.0 374.0 Z" fill="#1c1c1c"/>
<ellipse cx="113.4" cy="368.9" rx="4.2" ry="4.6" transform="rotate(0 113.4 368.9)" fill="#fff" stroke="#1c1c1c" stroke-width="1.4"/>
<ellipse cx="113.6" cy="369" rx="1.8" ry="2.2" transform="rotate(0 113.6 369)" fill="#1c1c1c" stroke="none" stroke-width="0"/>
<ellipse cx="547.3" cy="450.6" rx="31" ry="43.4" transform="rotate(9 547.3 450.6)" fill="#1c1c1c" stroke="none" stroke-width="0"/>
<ellipse cx="559.6" cy="449.2" rx="31" ry="43.4" transform="rotate(9 559.6 449.2)" fill="#1c1c1c" stroke="none" stroke-width="0"/>
<ellipse cx="553.5" cy="449.9" rx="31" ry="43.4" transform="rotate(9 553.5 449.9)" fill="#1c1c1c" stroke="none" stroke-width="0"/>
<ellipse cx="550.4" cy="450.2" rx="31" ry="43.4" transform="rotate(9 550.4 450.2)" fill="#1c1c1c" stroke="none" stroke-width="0"/>
<ellipse cx="556.6" cy="449.6" rx="31" ry="43.4" transform="rotate(9 556.6 449.6)" fill="#1c1c1c" stroke="none" stroke-width="0"/>
<ellipse cx="547.3" cy="450.6" rx="31" ry="43.4" transform="rotate(9 547.3 450.6)" fill="none" stroke="#1c1c1c" stroke-width="1.0" stroke-dasharray="1.3 1.3"/>
<ellipse cx="559.6" cy="449.2" rx="31" ry="43.4" transform="rotate(9 559.6 449.2)" fill="none" stroke="#1c1c1c" stroke-width="1.0" stroke-dasharray="1.3 1.3"/>
<ellipse cx="560.5" cy="452.3" rx="25.6" ry="34.3" transform="rotate(13 560.5 452.3)" fill="none" stroke="#fff" stroke-width="2.2"/>
<ellipse cx="560.5" cy="452.5" rx="17.3" ry="22.6" transform="rotate(13 560.5 452.5)" fill="none" stroke="#fff" stroke-width="2.2"/>
<ellipse cx="148.7" cy="496.8" rx="10.2" ry="4.9" transform="rotate(0 148.7 496.8)" fill="#1c1c1c" stroke="none" stroke-width="0"/>
<ellipse cx="148.7" cy="495.0" rx="9.6" ry="4.3" transform="rotate(0 148.7 495.0)" fill="#fff" stroke="#1c1c1c" stroke-width="1.5"/>
<ellipse cx="148.7" cy="493.20000000000005" rx="4.6" ry="1.6" transform="rotate(0 148.7 493.20000000000005)" fill="#bbb" stroke="#1c1c1c" stroke-width="0.9"/>
<path d="M146.1 476.4 L143.5 482.0 L145.3 483.2 L146.5 480.6 Z" fill="#fff" stroke="#1c1c1c" stroke-width="1.3" stroke-linejoin="round"/>
<path d="M151.9 476.2 L154.9 480.2 L153.3 481.6 L151.7 479.6 Z" fill="#fff" stroke="#1c1c1c" stroke-width="1.3" stroke-linejoin="round"/>
<path d="M146.3 476.0 L152.1 476.0 L151.6 493.0 L146.6 493.0 Z" fill="#fff" stroke="#1c1c1c" stroke-width="1.4" stroke-linejoin="round"/>
<ellipse cx="248.1" cy="554.0" rx="10.2" ry="4.9" transform="rotate(0 248.1 554.0)" fill="#1c1c1c" stroke="none" stroke-width="0"/>
<ellipse cx="248.1" cy="552.1999999999999" rx="9.6" ry="4.3" transform="rotate(0 248.1 552.1999999999999)" fill="#fff" stroke="#1c1c1c" stroke-width="1.5"/>
<ellipse cx="248.1" cy="550.4" rx="4.6" ry="1.6" transform="rotate(0 248.1 550.4)" fill="#bbb" stroke="#1c1c1c" stroke-width="0.9"/>
<path d="M245.5 533.6 L242.9 539.2 L244.7 540.4 L245.9 537.8 Z" fill="#fff" stroke="#1c1c1c" stroke-width="1.3" stroke-linejoin="round"/>
<path d="M251.3 533.4 L254.3 537.4 L252.7 538.8 L251.1 536.8 Z" fill="#fff" stroke="#1c1c1c" stroke-width="1.3" stroke-linejoin="round"/>
<path d="M245.7 533.2 L251.5 533.2 L251.0 550.2 L246.0 550.2 Z" fill="#fff" stroke="#1c1c1c" stroke-width="1.4" stroke-linejoin="round"/>
</svg>
</body></html>
